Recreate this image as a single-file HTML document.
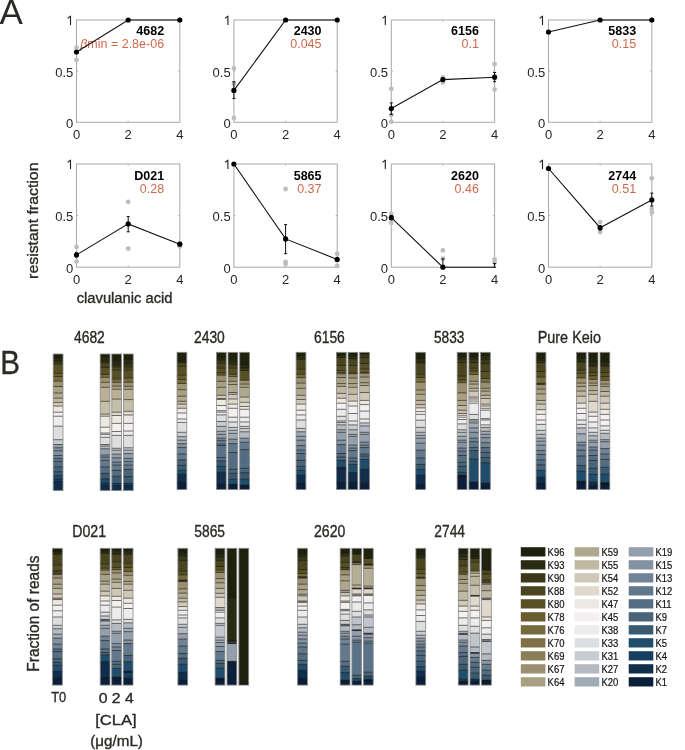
<!DOCTYPE html>
<html><head><meta charset="utf-8"><style>
html,body{margin:0;padding:0;background:#fff;}
svg{display:block;will-change:transform;}
text{font-family:"Liberation Sans", sans-serif;}
text.g{stroke:#2b2a24;stroke-width:0.35px;}
</style></head><body>
<svg width="685" height="750" viewBox="0 0 685 750">
<rect width="685" height="750" fill="#fff"/>
<rect x="76.5" y="20.0" width="103.3" height="102.3" fill="none" stroke="#a8a8a8" stroke-width="1"/>
<line x1="76.5" y1="71.2" x2="78.0" y2="71.2" stroke="#a8a8a8" stroke-width="1"/>
<line x1="179.8" y1="71.2" x2="178.3" y2="71.2" stroke="#a8a8a8" stroke-width="1"/>
<line x1="128.2" y1="122.3" x2="128.2" y2="120.8" stroke="#a8a8a8" stroke-width="1"/>
<line x1="128.2" y1="20.0" x2="128.2" y2="21.5" stroke="#a8a8a8" stroke-width="1"/>
<text x="73.3" y="128.1" text-anchor="end" font-size="13" fill="#262626">0</text>
<text x="73.3" y="77.0" text-anchor="end" font-size="13" fill="#262626">0.5</text>
<path d="M70.50 15.70V25.00M70.80 16.00L67.60 18.40" stroke="#262626" stroke-width="1.15" fill="none"/>
<text x="76.5" y="139.1" text-anchor="middle" font-size="13" fill="#262626">0</text>
<text x="128.2" y="139.1" text-anchor="middle" font-size="13" fill="#262626">2</text>
<text x="179.8" y="139.1" text-anchor="middle" font-size="13" fill="#262626">4</text>
<text x="164.1" y="34.5" text-anchor="end" font-size="12.5" font-weight="bold" fill="#000">4682</text>
<text x="164.1" y="48.2" text-anchor="end" font-size="12.5" fill="#cd6a4c"><tspan font-style="italic">β</tspan>min = 2.8e-06</text>
<circle cx="76.5" cy="47.6" r="2.4" fill="#bdbdbd"/>
<circle cx="76.5" cy="59.9" r="2.4" fill="#bdbdbd"/>
<polyline points="76.5,52.0 128.2,20.0 179.8,20.0" fill="none" stroke="#111" stroke-width="1.1"/>
<circle cx="76.5" cy="52.0" r="2.6" fill="#000"/>
<circle cx="128.2" cy="20.0" r="2.6" fill="#000"/>
<circle cx="179.8" cy="20.0" r="2.6" fill="#000"/>
<rect x="233.9" y="20.0" width="103.3" height="102.3" fill="none" stroke="#a8a8a8" stroke-width="1"/>
<line x1="233.9" y1="71.2" x2="235.4" y2="71.2" stroke="#a8a8a8" stroke-width="1"/>
<line x1="337.2" y1="71.2" x2="335.7" y2="71.2" stroke="#a8a8a8" stroke-width="1"/>
<line x1="285.6" y1="122.3" x2="285.6" y2="120.8" stroke="#a8a8a8" stroke-width="1"/>
<line x1="285.6" y1="20.0" x2="285.6" y2="21.5" stroke="#a8a8a8" stroke-width="1"/>
<text x="230.7" y="128.1" text-anchor="end" font-size="13" fill="#262626">0</text>
<text x="230.7" y="77.0" text-anchor="end" font-size="13" fill="#262626">0.5</text>
<path d="M227.90 15.70V25.00M228.20 16.00L225.00 18.40" stroke="#262626" stroke-width="1.15" fill="none"/>
<text x="233.9" y="139.1" text-anchor="middle" font-size="13" fill="#262626">0</text>
<text x="285.6" y="139.1" text-anchor="middle" font-size="13" fill="#262626">2</text>
<text x="337.2" y="139.1" text-anchor="middle" font-size="13" fill="#262626">4</text>
<text x="321.5" y="34.5" text-anchor="end" font-size="12.5" font-weight="bold" fill="#000">2430</text>
<text x="321.5" y="48.2" text-anchor="end" font-size="12.5" fill="#cd6a4c">0.045</text>
<circle cx="233.9" cy="68.5" r="2.4" fill="#bdbdbd"/>
<circle cx="233.9" cy="118.0" r="2.4" fill="#bdbdbd"/>
<circle cx="233.9" cy="83.9" r="2.4" fill="#bdbdbd"/>
<polyline points="233.9,90.4 285.6,20.0 337.2,20.0" fill="none" stroke="#111" stroke-width="1.1"/>
<line x1="233.9" y1="98.6" x2="233.9" y2="81.7" stroke="#111" stroke-width="1"/>
<line x1="232.4" y1="98.6" x2="235.4" y2="98.6" stroke="#111" stroke-width="1"/>
<line x1="232.4" y1="81.7" x2="235.4" y2="81.7" stroke="#111" stroke-width="1"/>
<circle cx="233.9" cy="90.4" r="2.6" fill="#000"/>
<circle cx="285.6" cy="20.0" r="2.6" fill="#000"/>
<circle cx="337.2" cy="20.0" r="2.6" fill="#000"/>
<rect x="391.3" y="20.0" width="103.3" height="102.3" fill="none" stroke="#a8a8a8" stroke-width="1"/>
<line x1="391.3" y1="71.2" x2="392.8" y2="71.2" stroke="#a8a8a8" stroke-width="1"/>
<line x1="494.6" y1="71.2" x2="493.1" y2="71.2" stroke="#a8a8a8" stroke-width="1"/>
<line x1="442.9" y1="122.3" x2="442.9" y2="120.8" stroke="#a8a8a8" stroke-width="1"/>
<line x1="442.9" y1="20.0" x2="442.9" y2="21.5" stroke="#a8a8a8" stroke-width="1"/>
<text x="388.1" y="128.1" text-anchor="end" font-size="13" fill="#262626">0</text>
<text x="388.1" y="77.0" text-anchor="end" font-size="13" fill="#262626">0.5</text>
<path d="M385.30 15.70V25.00M385.60 16.00L382.40 18.40" stroke="#262626" stroke-width="1.15" fill="none"/>
<text x="391.3" y="139.1" text-anchor="middle" font-size="13" fill="#262626">0</text>
<text x="442.9" y="139.1" text-anchor="middle" font-size="13" fill="#262626">2</text>
<text x="494.6" y="139.1" text-anchor="middle" font-size="13" fill="#262626">4</text>
<text x="478.9" y="34.5" text-anchor="end" font-size="12.5" font-weight="bold" fill="#000">6156</text>
<text x="478.9" y="48.2" text-anchor="end" font-size="12.5" fill="#cd6a4c">0.1</text>
<circle cx="391.3" cy="89.0" r="2.4" fill="#bdbdbd"/>
<circle cx="391.3" cy="121.7" r="2.4" fill="#bdbdbd"/>
<circle cx="391.3" cy="115.1" r="2.4" fill="#bdbdbd"/>
<circle cx="442.9" cy="77.3" r="2.4" fill="#bdbdbd"/>
<circle cx="442.9" cy="82.4" r="2.4" fill="#bdbdbd"/>
<circle cx="494.6" cy="64.1" r="2.4" fill="#bdbdbd"/>
<circle cx="494.6" cy="89.6" r="2.4" fill="#bdbdbd"/>
<polyline points="391.3,108.6 442.9,79.6 494.6,77.2" fill="none" stroke="#111" stroke-width="1.1"/>
<line x1="391.3" y1="114.5" x2="391.3" y2="102.9" stroke="#111" stroke-width="1"/>
<line x1="389.8" y1="114.5" x2="392.8" y2="114.5" stroke="#111" stroke-width="1"/>
<line x1="389.8" y1="102.9" x2="392.8" y2="102.9" stroke="#111" stroke-width="1"/>
<line x1="442.9" y1="81.4" x2="442.9" y2="78.3" stroke="#111" stroke-width="1"/>
<line x1="441.4" y1="81.4" x2="444.4" y2="81.4" stroke="#111" stroke-width="1"/>
<line x1="441.4" y1="78.3" x2="444.4" y2="78.3" stroke="#111" stroke-width="1"/>
<line x1="494.6" y1="81.7" x2="494.6" y2="72.5" stroke="#111" stroke-width="1"/>
<line x1="493.1" y1="81.7" x2="496.1" y2="81.7" stroke="#111" stroke-width="1"/>
<line x1="493.1" y1="72.5" x2="496.1" y2="72.5" stroke="#111" stroke-width="1"/>
<circle cx="391.3" cy="108.6" r="2.6" fill="#000"/>
<circle cx="442.9" cy="79.6" r="2.6" fill="#000"/>
<circle cx="494.6" cy="77.2" r="2.6" fill="#000"/>
<rect x="548.5" y="20.0" width="103.3" height="102.3" fill="none" stroke="#a8a8a8" stroke-width="1"/>
<line x1="548.5" y1="71.2" x2="550.0" y2="71.2" stroke="#a8a8a8" stroke-width="1"/>
<line x1="651.8" y1="71.2" x2="650.3" y2="71.2" stroke="#a8a8a8" stroke-width="1"/>
<line x1="600.1" y1="122.3" x2="600.1" y2="120.8" stroke="#a8a8a8" stroke-width="1"/>
<line x1="600.1" y1="20.0" x2="600.1" y2="21.5" stroke="#a8a8a8" stroke-width="1"/>
<text x="545.3" y="128.1" text-anchor="end" font-size="13" fill="#262626">0</text>
<text x="545.3" y="77.0" text-anchor="end" font-size="13" fill="#262626">0.5</text>
<path d="M542.50 15.70V25.00M542.80 16.00L539.60 18.40" stroke="#262626" stroke-width="1.15" fill="none"/>
<text x="548.5" y="139.1" text-anchor="middle" font-size="13" fill="#262626">0</text>
<text x="600.1" y="139.1" text-anchor="middle" font-size="13" fill="#262626">2</text>
<text x="651.8" y="139.1" text-anchor="middle" font-size="13" fill="#262626">4</text>
<text x="636.1" y="34.5" text-anchor="end" font-size="12.5" font-weight="bold" fill="#000">5833</text>
<text x="636.1" y="48.2" text-anchor="end" font-size="12.5" fill="#cd6a4c">0.15</text>
<polyline points="548.5,32.0 600.1,20.0 651.8,20.0" fill="none" stroke="#111" stroke-width="1.1"/>
<circle cx="548.5" cy="32.0" r="2.6" fill="#000"/>
<circle cx="600.1" cy="20.0" r="2.6" fill="#000"/>
<circle cx="651.8" cy="20.0" r="2.6" fill="#000"/>
<rect x="76.5" y="164.0" width="103.3" height="103.19999999999999" fill="none" stroke="#a8a8a8" stroke-width="1"/>
<line x1="76.5" y1="215.6" x2="78.0" y2="215.6" stroke="#a8a8a8" stroke-width="1"/>
<line x1="179.8" y1="215.6" x2="178.3" y2="215.6" stroke="#a8a8a8" stroke-width="1"/>
<line x1="128.2" y1="267.2" x2="128.2" y2="265.7" stroke="#a8a8a8" stroke-width="1"/>
<line x1="128.2" y1="164.0" x2="128.2" y2="165.5" stroke="#a8a8a8" stroke-width="1"/>
<text x="73.3" y="273.0" text-anchor="end" font-size="13" fill="#262626">0</text>
<text x="73.3" y="221.4" text-anchor="end" font-size="13" fill="#262626">0.5</text>
<path d="M70.50 159.70V169.00M70.80 160.00L67.60 162.40" stroke="#262626" stroke-width="1.15" fill="none"/>
<text x="76.5" y="284.0" text-anchor="middle" font-size="13" fill="#262626">0</text>
<text x="128.2" y="284.0" text-anchor="middle" font-size="13" fill="#262626">2</text>
<text x="179.8" y="284.0" text-anchor="middle" font-size="13" fill="#262626">4</text>
<text x="164.1" y="179.5" text-anchor="end" font-size="12.5" font-weight="bold" fill="#000">D021</text>
<text x="164.1" y="192.7" text-anchor="end" font-size="12.5" fill="#cd6a4c">0.28</text>
<circle cx="76.5" cy="246.9" r="2.4" fill="#bdbdbd"/>
<circle cx="76.5" cy="261.6" r="2.4" fill="#bdbdbd"/>
<circle cx="128.2" cy="201.8" r="2.4" fill="#bdbdbd"/>
<circle cx="128.2" cy="248.6" r="2.4" fill="#bdbdbd"/>
<circle cx="179.8" cy="246.6" r="2.4" fill="#bdbdbd"/>
<circle cx="179.8" cy="243.5" r="2.4" fill="#bdbdbd"/>
<polyline points="76.5,254.9 128.2,223.9 179.8,244.2" fill="none" stroke="#111" stroke-width="1.1"/>
<line x1="76.5" y1="256.9" x2="76.5" y2="252.8" stroke="#111" stroke-width="1"/>
<line x1="75.0" y1="256.9" x2="78.0" y2="256.9" stroke="#111" stroke-width="1"/>
<line x1="75.0" y1="252.8" x2="78.0" y2="252.8" stroke="#111" stroke-width="1"/>
<line x1="128.2" y1="231.8" x2="128.2" y2="216.6" stroke="#111" stroke-width="1"/>
<line x1="126.7" y1="231.8" x2="129.7" y2="231.8" stroke="#111" stroke-width="1"/>
<line x1="126.7" y1="216.6" x2="129.7" y2="216.6" stroke="#111" stroke-width="1"/>
<line x1="179.8" y1="245.5" x2="179.8" y2="242.9" stroke="#111" stroke-width="1"/>
<line x1="178.3" y1="245.5" x2="181.3" y2="245.5" stroke="#111" stroke-width="1"/>
<line x1="178.3" y1="242.9" x2="181.3" y2="242.9" stroke="#111" stroke-width="1"/>
<circle cx="76.5" cy="254.9" r="2.6" fill="#000"/>
<circle cx="128.2" cy="223.9" r="2.6" fill="#000"/>
<circle cx="179.8" cy="244.2" r="2.6" fill="#000"/>
<rect x="233.9" y="164.0" width="103.3" height="103.19999999999999" fill="none" stroke="#a8a8a8" stroke-width="1"/>
<line x1="233.9" y1="215.6" x2="235.4" y2="215.6" stroke="#a8a8a8" stroke-width="1"/>
<line x1="337.2" y1="215.6" x2="335.7" y2="215.6" stroke="#a8a8a8" stroke-width="1"/>
<line x1="285.6" y1="267.2" x2="285.6" y2="265.7" stroke="#a8a8a8" stroke-width="1"/>
<line x1="285.6" y1="164.0" x2="285.6" y2="165.5" stroke="#a8a8a8" stroke-width="1"/>
<text x="230.7" y="273.0" text-anchor="end" font-size="13" fill="#262626">0</text>
<text x="230.7" y="221.4" text-anchor="end" font-size="13" fill="#262626">0.5</text>
<path d="M227.90 159.70V169.00M228.20 160.00L225.00 162.40" stroke="#262626" stroke-width="1.15" fill="none"/>
<text x="233.9" y="284.0" text-anchor="middle" font-size="13" fill="#262626">0</text>
<text x="285.6" y="284.0" text-anchor="middle" font-size="13" fill="#262626">2</text>
<text x="337.2" y="284.0" text-anchor="middle" font-size="13" fill="#262626">4</text>
<text x="321.5" y="179.5" text-anchor="end" font-size="12.5" font-weight="bold" fill="#000">5865</text>
<text x="321.5" y="192.7" text-anchor="end" font-size="12.5" fill="#cd6a4c">0.37</text>
<circle cx="285.6" cy="189.0" r="2.4" fill="#bdbdbd"/>
<circle cx="285.6" cy="262.0" r="2.4" fill="#bdbdbd"/>
<circle cx="285.6" cy="264.1" r="2.4" fill="#bdbdbd"/>
<circle cx="337.2" cy="253.8" r="2.4" fill="#bdbdbd"/>
<circle cx="337.2" cy="266.0" r="2.4" fill="#bdbdbd"/>
<polyline points="233.9,164.0 285.6,238.9 337.2,259.4" fill="none" stroke="#111" stroke-width="1.1"/>
<line x1="285.6" y1="253.7" x2="285.6" y2="224.6" stroke="#111" stroke-width="1"/>
<line x1="284.1" y1="253.7" x2="287.1" y2="253.7" stroke="#111" stroke-width="1"/>
<line x1="284.1" y1="224.6" x2="287.1" y2="224.6" stroke="#111" stroke-width="1"/>
<line x1="337.2" y1="261.0" x2="337.2" y2="257.9" stroke="#111" stroke-width="1"/>
<line x1="335.7" y1="261.0" x2="338.7" y2="261.0" stroke="#111" stroke-width="1"/>
<line x1="335.7" y1="257.9" x2="338.7" y2="257.9" stroke="#111" stroke-width="1"/>
<circle cx="233.9" cy="164.0" r="2.6" fill="#000"/>
<circle cx="285.6" cy="238.9" r="2.6" fill="#000"/>
<circle cx="337.2" cy="259.4" r="2.6" fill="#000"/>
<rect x="391.3" y="164.0" width="103.3" height="103.19999999999999" fill="none" stroke="#a8a8a8" stroke-width="1"/>
<line x1="391.3" y1="215.6" x2="392.8" y2="215.6" stroke="#a8a8a8" stroke-width="1"/>
<line x1="494.6" y1="215.6" x2="493.1" y2="215.6" stroke="#a8a8a8" stroke-width="1"/>
<line x1="442.9" y1="267.2" x2="442.9" y2="265.7" stroke="#a8a8a8" stroke-width="1"/>
<line x1="442.9" y1="164.0" x2="442.9" y2="165.5" stroke="#a8a8a8" stroke-width="1"/>
<text x="388.1" y="273.0" text-anchor="end" font-size="13" fill="#262626">0</text>
<text x="388.1" y="221.4" text-anchor="end" font-size="13" fill="#262626">0.5</text>
<path d="M385.30 159.70V169.00M385.60 160.00L382.40 162.40" stroke="#262626" stroke-width="1.15" fill="none"/>
<text x="391.3" y="284.0" text-anchor="middle" font-size="13" fill="#262626">0</text>
<text x="442.9" y="284.0" text-anchor="middle" font-size="13" fill="#262626">2</text>
<text x="494.6" y="284.0" text-anchor="middle" font-size="13" fill="#262626">4</text>
<text x="478.9" y="179.5" text-anchor="end" font-size="12.5" font-weight="bold" fill="#000">2620</text>
<text x="478.9" y="192.7" text-anchor="end" font-size="12.5" fill="#cd6a4c">0.46</text>
<circle cx="391.3" cy="213.8" r="2.4" fill="#bdbdbd"/>
<circle cx="391.3" cy="223.0" r="2.4" fill="#bdbdbd"/>
<circle cx="442.9" cy="250.4" r="2.4" fill="#bdbdbd"/>
<circle cx="442.9" cy="258.6" r="2.4" fill="#bdbdbd"/>
<circle cx="494.6" cy="259.4" r="2.4" fill="#bdbdbd"/>
<circle cx="494.6" cy="262.5" r="2.4" fill="#bdbdbd"/>
<polyline points="391.3,217.7 442.9,267.2 494.6,267.2" fill="none" stroke="#111" stroke-width="1.1"/>
<line x1="391.3" y1="219.7" x2="391.3" y2="215.6" stroke="#111" stroke-width="1"/>
<line x1="389.8" y1="219.7" x2="392.8" y2="219.7" stroke="#111" stroke-width="1"/>
<line x1="389.8" y1="215.6" x2="392.8" y2="215.6" stroke="#111" stroke-width="1"/>
<line x1="442.9" y1="267.2" x2="442.9" y2="258.9" stroke="#111" stroke-width="1"/>
<line x1="441.4" y1="267.2" x2="444.4" y2="267.2" stroke="#111" stroke-width="1"/>
<line x1="441.4" y1="258.9" x2="444.4" y2="258.9" stroke="#111" stroke-width="1"/>
<line x1="494.6" y1="267.2" x2="494.6" y2="263.6" stroke="#111" stroke-width="1"/>
<line x1="493.1" y1="267.2" x2="496.1" y2="267.2" stroke="#111" stroke-width="1"/>
<line x1="493.1" y1="263.6" x2="496.1" y2="263.6" stroke="#111" stroke-width="1"/>
<circle cx="391.3" cy="217.7" r="2.6" fill="#000"/>
<circle cx="442.9" cy="267.2" r="2.6" fill="#000"/>
<rect x="548.5" y="164.0" width="103.3" height="103.19999999999999" fill="none" stroke="#a8a8a8" stroke-width="1"/>
<line x1="548.5" y1="215.6" x2="550.0" y2="215.6" stroke="#a8a8a8" stroke-width="1"/>
<line x1="651.8" y1="215.6" x2="650.3" y2="215.6" stroke="#a8a8a8" stroke-width="1"/>
<line x1="600.1" y1="267.2" x2="600.1" y2="265.7" stroke="#a8a8a8" stroke-width="1"/>
<line x1="600.1" y1="164.0" x2="600.1" y2="165.5" stroke="#a8a8a8" stroke-width="1"/>
<text x="545.3" y="273.0" text-anchor="end" font-size="13" fill="#262626">0</text>
<text x="545.3" y="221.4" text-anchor="end" font-size="13" fill="#262626">0.5</text>
<path d="M542.50 159.70V169.00M542.80 160.00L539.60 162.40" stroke="#262626" stroke-width="1.15" fill="none"/>
<text x="548.5" y="284.0" text-anchor="middle" font-size="13" fill="#262626">0</text>
<text x="600.1" y="284.0" text-anchor="middle" font-size="13" fill="#262626">2</text>
<text x="651.8" y="284.0" text-anchor="middle" font-size="13" fill="#262626">4</text>
<text x="636.1" y="179.5" text-anchor="end" font-size="12.5" font-weight="bold" fill="#000">2744</text>
<text x="636.1" y="192.7" text-anchor="end" font-size="12.5" fill="#cd6a4c">0.51</text>
<circle cx="600.1" cy="222.1" r="2.4" fill="#bdbdbd"/>
<circle cx="600.1" cy="232.1" r="2.4" fill="#bdbdbd"/>
<circle cx="651.8" cy="178.3" r="2.4" fill="#bdbdbd"/>
<circle cx="651.8" cy="208.9" r="2.4" fill="#bdbdbd"/>
<circle cx="651.8" cy="212.5" r="2.4" fill="#bdbdbd"/>
<polyline points="548.5,168.5 600.1,227.7 651.8,199.9" fill="none" stroke="#111" stroke-width="1.1"/>
<line x1="600.1" y1="230.0" x2="600.1" y2="225.9" stroke="#111" stroke-width="1"/>
<line x1="598.6" y1="230.0" x2="601.6" y2="230.0" stroke="#111" stroke-width="1"/>
<line x1="598.6" y1="225.9" x2="601.6" y2="225.9" stroke="#111" stroke-width="1"/>
<line x1="651.8" y1="206.0" x2="651.8" y2="193.1" stroke="#111" stroke-width="1"/>
<line x1="650.3" y1="206.0" x2="653.3" y2="206.0" stroke="#111" stroke-width="1"/>
<line x1="650.3" y1="193.1" x2="653.3" y2="193.1" stroke="#111" stroke-width="1"/>
<circle cx="548.5" cy="168.5" r="2.6" fill="#000"/>
<circle cx="600.1" cy="227.7" r="2.6" fill="#000"/>
<circle cx="651.8" cy="199.9" r="2.6" fill="#000"/>
<text x="-0.6" y="23.6" font-size="35" fill="#2b2a24">A</text>
<text transform="translate(0.2,373.9) scale(0.91,1)" font-size="32.5" fill="#2b2a24" stroke="#2b2a24" stroke-width="0.35">B</text>
<text transform="translate(38,278.9) rotate(-90)" font-size="15.2" class="g" fill="#2b2a24" textLength="116.4" lengthAdjust="spacingAndGlyphs">resistant fraction</text>
<text x="76.7" y="302.7" font-size="15.2" class="g" fill="#2b2a24" textLength="95.8" lengthAdjust="spacingAndGlyphs">clavulanic acid</text>
<text transform="translate(39.3,671.7) rotate(-90)" font-size="16.3" class="g" fill="#2b2a24" textLength="116.2" lengthAdjust="spacingAndGlyphs">Fraction of reads</text>
<text x="74.0" y="343.0" font-size="16" class="g" fill="#2b2a24" textLength="30.8" lengthAdjust="spacingAndGlyphs">4682</text>
<g transform="translate(53.2,0)">
<rect y="354.00" width="9.8" height="4.60" fill="#1e220d"/>
<rect y="358.00" width="9.8" height="3.60" fill="#2a2b13"/>
<rect y="361.00" width="9.8" height="3.70" fill="#3a3818"/>
<rect y="364.10" width="9.8" height="9.80" fill="#575024"/>
<rect y="373.30" width="9.8" height="3.80" fill="#695d2d"/>
<rect y="376.50" width="9.8" height="5.30" fill="#766b3e"/>
<rect y="381.20" width="9.8" height="5.90" fill="#9b8f6f"/>
<rect y="386.50" width="9.8" height="7.10" fill="#a9a084"/>
<rect y="393.00" width="9.8" height="5.80" fill="#b0a88e"/>
<rect y="398.20" width="9.8" height="4.80" fill="#c0b8a3"/>
<rect y="402.40" width="9.8" height="4.30" fill="#cfc7b7"/>
<rect y="406.10" width="9.8" height="6.70" fill="#ece8e2"/>
<rect y="412.20" width="9.8" height="4.60" fill="#f4f0ef"/>
<rect y="416.20" width="9.8" height="10.60" fill="#ecebed"/>
<rect y="426.20" width="9.8" height="14.10" fill="#dcdee0"/>
<rect y="439.70" width="9.8" height="5.40" fill="#c8cbd0"/>
<rect y="444.50" width="9.8" height="3.90" fill="#939fac"/>
<rect y="447.80" width="9.8" height="3.50" fill="#8292a1"/>
<rect y="450.70" width="9.8" height="5.40" fill="#7e8fa0"/>
<rect y="455.50" width="9.8" height="3.50" fill="#718497"/>
<rect y="458.40" width="9.8" height="3.50" fill="#62788c"/>
<rect y="461.30" width="9.8" height="6.30" fill="#546d83"/>
<rect y="467.00" width="9.8" height="5.40" fill="#4a6579"/>
<rect y="471.80" width="9.8" height="4.50" fill="#3a5a72"/>
<rect y="475.70" width="9.8" height="3.90" fill="#204d6b"/>
<rect y="479.00" width="9.8" height="3.10" fill="#173f62"/>
<rect y="481.50" width="9.8" height="9.10" fill="#102d4c"/>
<path d="M0 358.00h9.8M0 361.00h9.8M0 364.10h9.8M0 373.30h9.8M0 376.50h9.8M0 381.20h9.8M0 386.50h9.8M0 393.00h9.8M0 398.20h9.8M0 402.40h9.8M0 406.10h9.8M0 412.20h9.8M0 416.20h9.8M0 426.20h9.8M0 439.70h9.8M0 444.50h9.8M0 447.80h9.8M0 450.70h9.8M0 455.50h9.8M0 458.40h9.8M0 461.30h9.8M0 467.00h9.8M0 471.80h9.8M0 475.70h9.8M0 479.00h9.8M0 481.50h9.8" stroke="#1a1a14" stroke-opacity="0.75" stroke-width="0.8"/>
<rect y="354.00" width="9.8" height="136.60" fill="none" stroke="#8a8a8a" stroke-width="0.8"/>
</g>
<g transform="translate(100.2,0)">
<rect y="354.00" width="9.8" height="3.30" fill="#1e220d"/>
<rect y="356.70" width="9.8" height="4.80" fill="#2a2b13"/>
<rect y="360.90" width="9.8" height="2.40" fill="#3a3818"/>
<rect y="362.70" width="9.8" height="5.30" fill="#4a4520"/>
<rect y="367.40" width="9.8" height="7.60" fill="#575024"/>
<rect y="374.40" width="9.8" height="3.50" fill="#766b3e"/>
<rect y="377.30" width="9.8" height="5.60" fill="#9b8f6f"/>
<rect y="382.30" width="9.8" height="5.60" fill="#a9a084"/>
<rect y="387.30" width="9.8" height="14.60" fill="#b9b096"/>
<rect y="401.30" width="9.8" height="13.40" fill="#c6bea9"/>
<rect y="414.10" width="9.8" height="2.70" fill="#dfd8cc"/>
<rect y="416.20" width="9.8" height="11.60" fill="#ece8e2"/>
<rect y="427.20" width="9.8" height="6.40" fill="#f4f0ef"/>
<rect y="433.00" width="9.8" height="2.00" fill="#e6e4e4"/>
<rect y="434.40" width="9.8" height="3.50" fill="#ecebed"/>
<rect y="437.30" width="9.8" height="7.80" fill="#dcdee0"/>
<rect y="444.50" width="9.8" height="2.10" fill="#c8cbd0"/>
<rect y="446.00" width="9.8" height="3.40" fill="#b3bac3"/>
<rect y="448.80" width="9.8" height="6.80" fill="#939fac"/>
<rect y="455.00" width="9.8" height="2.60" fill="#8292a1"/>
<rect y="457.00" width="9.8" height="3.90" fill="#718497"/>
<rect y="460.30" width="9.8" height="7.30" fill="#62788c"/>
<rect y="467.00" width="9.8" height="6.90" fill="#546d83"/>
<rect y="473.30" width="9.8" height="6.30" fill="#3a5a72"/>
<rect y="479.00" width="9.8" height="4.50" fill="#204d6b"/>
<rect y="482.90" width="9.8" height="2.70" fill="#173f62"/>
<rect y="485.00" width="9.8" height="5.60" fill="#102d4c"/>
<path d="M0 356.70h9.8M0 360.90h9.8M0 362.70h9.8M0 367.40h9.8M0 374.40h9.8M0 377.30h9.8M0 382.30h9.8M0 387.30h9.8M0 401.30h9.8M0 414.10h9.8M0 416.20h9.8M0 427.20h9.8M0 433.00h9.8M0 434.40h9.8M0 437.30h9.8M0 444.50h9.8M0 446.00h9.8M0 448.80h9.8M0 455.00h9.8M0 457.00h9.8M0 460.30h9.8M0 467.00h9.8M0 473.30h9.8M0 479.00h9.8M0 482.90h9.8M0 485.00h9.8" stroke="#1a1a14" stroke-opacity="0.75" stroke-width="0.8"/>
<rect y="354.00" width="9.8" height="136.60" fill="none" stroke="#8a8a8a" stroke-width="0.8"/>
</g>
<g transform="translate(111.8,0)">
<rect y="354.00" width="9.8" height="7.50" fill="#1e220d"/>
<rect y="360.90" width="9.8" height="4.80" fill="#2a2b13"/>
<rect y="365.10" width="9.8" height="2.40" fill="#3a3818"/>
<rect y="366.90" width="9.8" height="3.90" fill="#4a4520"/>
<rect y="370.20" width="9.8" height="9.50" fill="#575024"/>
<rect y="379.10" width="9.8" height="3.80" fill="#766b3e"/>
<rect y="382.30" width="9.8" height="4.40" fill="#9b8f6f"/>
<rect y="386.10" width="9.8" height="3.80" fill="#a9a084"/>
<rect y="389.30" width="9.8" height="10.40" fill="#b9b096"/>
<rect y="399.10" width="9.8" height="13.70" fill="#c6bea9"/>
<rect y="412.20" width="9.8" height="3.90" fill="#dfd8cc"/>
<rect y="415.50" width="9.8" height="8.50" fill="#ece8e2"/>
<rect y="423.40" width="9.8" height="8.70" fill="#f4f0ef"/>
<rect y="431.50" width="9.8" height="4.50" fill="#ecebed"/>
<rect y="435.40" width="9.8" height="13.50" fill="#dcdee0"/>
<rect y="448.30" width="9.8" height="2.50" fill="#c8cbd0"/>
<rect y="450.20" width="9.8" height="4.50" fill="#b3bac3"/>
<rect y="454.10" width="9.8" height="4.40" fill="#939fac"/>
<rect y="457.90" width="9.8" height="4.90" fill="#8292a1"/>
<rect y="462.20" width="9.8" height="3.50" fill="#718497"/>
<rect y="465.10" width="9.8" height="5.90" fill="#62788c"/>
<rect y="470.40" width="9.8" height="6.40" fill="#546d83"/>
<rect y="476.20" width="9.8" height="7.80" fill="#3a5a72"/>
<rect y="483.40" width="9.8" height="2.90" fill="#173f62"/>
<rect y="485.70" width="9.8" height="4.90" fill="#102d4c"/>
<path d="M0 360.90h9.8M0 365.10h9.8M0 366.90h9.8M0 370.20h9.8M0 379.10h9.8M0 382.30h9.8M0 386.10h9.8M0 389.30h9.8M0 399.10h9.8M0 412.20h9.8M0 415.50h9.8M0 423.40h9.8M0 431.50h9.8M0 435.40h9.8M0 448.30h9.8M0 450.20h9.8M0 454.10h9.8M0 457.90h9.8M0 462.20h9.8M0 465.10h9.8M0 470.40h9.8M0 476.20h9.8M0 483.40h9.8M0 485.70h9.8" stroke="#1a1a14" stroke-opacity="0.75" stroke-width="0.8"/>
<rect y="354.00" width="9.8" height="136.60" fill="none" stroke="#8a8a8a" stroke-width="0.8"/>
</g>
<g transform="translate(123.4,0)">
<rect y="354.00" width="9.8" height="6.10" fill="#1e220d"/>
<rect y="359.50" width="9.8" height="4.80" fill="#2a2b13"/>
<rect y="363.70" width="9.8" height="3.80" fill="#3a3818"/>
<rect y="366.90" width="9.8" height="3.90" fill="#4a4520"/>
<rect y="370.20" width="9.8" height="8.50" fill="#575024"/>
<rect y="378.10" width="9.8" height="4.80" fill="#766b3e"/>
<rect y="382.30" width="9.8" height="4.60" fill="#9b8f6f"/>
<rect y="386.30" width="9.8" height="3.60" fill="#a9a084"/>
<rect y="389.30" width="9.8" height="10.90" fill="#b9b096"/>
<rect y="399.60" width="9.8" height="12.30" fill="#c6bea9"/>
<rect y="411.30" width="9.8" height="4.30" fill="#dfd8cc"/>
<rect y="415.00" width="9.8" height="9.00" fill="#ece8e2"/>
<rect y="423.40" width="9.8" height="8.20" fill="#f4f0ef"/>
<rect y="431.00" width="9.8" height="5.00" fill="#ecebed"/>
<rect y="435.40" width="9.8" height="13.00" fill="#dcdee0"/>
<rect y="447.80" width="9.8" height="3.00" fill="#c8cbd0"/>
<rect y="450.20" width="9.8" height="4.00" fill="#b3bac3"/>
<rect y="453.60" width="9.8" height="5.40" fill="#939fac"/>
<rect y="458.40" width="9.8" height="3.50" fill="#8292a1"/>
<rect y="461.30" width="9.8" height="4.40" fill="#718497"/>
<rect y="465.10" width="9.8" height="4.90" fill="#62788c"/>
<rect y="469.40" width="9.8" height="7.80" fill="#4a6579"/>
<rect y="476.60" width="9.8" height="7.40" fill="#3a5a72"/>
<rect y="483.40" width="9.8" height="2.70" fill="#173f62"/>
<rect y="485.50" width="9.8" height="5.10" fill="#102d4c"/>
<path d="M0 359.50h9.8M0 363.70h9.8M0 366.90h9.8M0 370.20h9.8M0 378.10h9.8M0 382.30h9.8M0 386.30h9.8M0 389.30h9.8M0 399.60h9.8M0 411.30h9.8M0 415.00h9.8M0 423.40h9.8M0 431.00h9.8M0 435.40h9.8M0 447.80h9.8M0 450.20h9.8M0 453.60h9.8M0 458.40h9.8M0 461.30h9.8M0 465.10h9.8M0 469.40h9.8M0 476.60h9.8M0 483.40h9.8M0 485.50h9.8" stroke="#1a1a14" stroke-opacity="0.75" stroke-width="0.8"/>
<rect y="354.00" width="9.8" height="136.60" fill="none" stroke="#8a8a8a" stroke-width="0.8"/>
</g>
<text x="194.0" y="343.0" font-size="16" class="g" fill="#2b2a24" textLength="30.8" lengthAdjust="spacingAndGlyphs">2430</text>
<g transform="translate(177.0,0)">
<rect y="352.30" width="9.8" height="9.00" fill="#1e220d"/>
<rect y="360.70" width="9.8" height="2.50" fill="#2a2b13"/>
<rect y="362.60" width="9.8" height="4.30" fill="#4a4520"/>
<rect y="366.30" width="9.8" height="9.50" fill="#575024"/>
<rect y="375.20" width="9.8" height="4.80" fill="#695d2d"/>
<rect y="379.40" width="9.8" height="4.70" fill="#766b3e"/>
<rect y="383.50" width="9.8" height="6.80" fill="#a09676"/>
<rect y="389.70" width="9.8" height="7.10" fill="#a9a084"/>
<rect y="396.20" width="9.8" height="5.70" fill="#b0a88e"/>
<rect y="401.30" width="9.8" height="3.40" fill="#c0b8a3"/>
<rect y="404.10" width="9.8" height="4.80" fill="#cfc7b7"/>
<rect y="408.30" width="9.8" height="5.30" fill="#ece8e2"/>
<rect y="413.00" width="9.8" height="6.60" fill="#f4f0ef"/>
<rect y="419.00" width="9.8" height="4.00" fill="#ecebed"/>
<rect y="422.40" width="9.8" height="10.50" fill="#dcdee0"/>
<rect y="432.30" width="9.8" height="5.00" fill="#c8cbd0"/>
<rect y="436.70" width="9.8" height="4.10" fill="#b3bac3"/>
<rect y="440.20" width="9.8" height="4.10" fill="#a0abb5"/>
<rect y="443.70" width="9.8" height="4.50" fill="#8292a1"/>
<rect y="447.60" width="9.8" height="7.00" fill="#718497"/>
<rect y="454.00" width="9.8" height="6.50" fill="#62788c"/>
<rect y="459.90" width="9.8" height="6.10" fill="#4a6579"/>
<rect y="465.40" width="9.8" height="5.50" fill="#3a5a72"/>
<rect y="470.30" width="9.8" height="4.50" fill="#204d6b"/>
<rect y="474.20" width="9.8" height="8.50" fill="#102d4c"/>
<rect y="482.10" width="9.8" height="7.50" fill="#0b1f3a"/>
<path d="M0 360.70h9.8M0 362.60h9.8M0 366.30h9.8M0 375.20h9.8M0 379.40h9.8M0 383.50h9.8M0 389.70h9.8M0 396.20h9.8M0 401.30h9.8M0 404.10h9.8M0 408.30h9.8M0 413.00h9.8M0 419.00h9.8M0 422.40h9.8M0 432.30h9.8M0 436.70h9.8M0 440.20h9.8M0 443.70h9.8M0 447.60h9.8M0 454.00h9.8M0 459.90h9.8M0 465.40h9.8M0 470.30h9.8M0 474.20h9.8M0 482.10h9.8" stroke="#1a1a14" stroke-opacity="0.75" stroke-width="0.8"/>
<rect y="352.30" width="9.8" height="137.30" fill="none" stroke="#8a8a8a" stroke-width="0.8"/>
</g>
<g transform="translate(216.4,0)">
<rect y="352.30" width="9.8" height="6.20" fill="#1e220d"/>
<rect y="357.90" width="9.8" height="3.00" fill="#2a2b13"/>
<rect y="360.30" width="9.8" height="3.40" fill="#3a3818"/>
<rect y="363.10" width="9.8" height="5.70" fill="#4a4520"/>
<rect y="368.20" width="9.8" height="5.30" fill="#575024"/>
<rect y="372.90" width="9.8" height="2.90" fill="#695d2d"/>
<rect y="375.20" width="9.8" height="6.70" fill="#9b8f6f"/>
<rect y="381.30" width="9.8" height="6.60" fill="#a9a084"/>
<rect y="387.30" width="9.8" height="8.60" fill="#b0a88e"/>
<rect y="395.30" width="9.8" height="3.80" fill="#cfc7b7"/>
<rect y="398.50" width="9.8" height="1.60" fill="#dfd8cc"/>
<rect y="399.50" width="9.8" height="6.60" fill="#ece8e2"/>
<rect y="405.50" width="9.8" height="5.80" fill="#f4f0ef"/>
<rect y="410.70" width="9.8" height="2.00" fill="#e4e3e4"/>
<rect y="412.10" width="9.8" height="3.40" fill="#ecebed"/>
<rect y="414.90" width="9.8" height="7.20" fill="#dcdee0"/>
<rect y="421.50" width="9.8" height="5.50" fill="#c8cbd0"/>
<rect y="426.40" width="9.8" height="5.50" fill="#b3bac3"/>
<rect y="431.30" width="9.8" height="3.60" fill="#a0abb5"/>
<rect y="434.30" width="9.8" height="4.50" fill="#939fac"/>
<rect y="438.20" width="9.8" height="3.10" fill="#718497"/>
<rect y="440.70" width="9.8" height="4.00" fill="#6c7f92"/>
<rect y="444.10" width="9.8" height="2.10" fill="#62788c"/>
<rect y="445.60" width="9.8" height="12.50" fill="#5a7289"/>
<rect y="457.50" width="9.8" height="4.00" fill="#546d83"/>
<rect y="460.90" width="9.8" height="6.00" fill="#3a5a72"/>
<rect y="466.30" width="9.8" height="6.60" fill="#204d6b"/>
<rect y="472.30" width="9.8" height="12.40" fill="#102d4c"/>
<rect y="484.10" width="9.8" height="5.50" fill="#0b1f3a"/>
<path d="M0 357.90h9.8M0 360.30h9.8M0 363.10h9.8M0 368.20h9.8M0 372.90h9.8M0 375.20h9.8M0 381.30h9.8M0 387.30h9.8M0 395.30h9.8M0 398.50h9.8M0 399.50h9.8M0 405.50h9.8M0 410.70h9.8M0 412.10h9.8M0 414.90h9.8M0 421.50h9.8M0 426.40h9.8M0 431.30h9.8M0 434.30h9.8M0 438.20h9.8M0 440.70h9.8M0 444.10h9.8M0 445.60h9.8M0 457.50h9.8M0 460.90h9.8M0 466.30h9.8M0 472.30h9.8M0 484.10h9.8" stroke="#1a1a14" stroke-opacity="0.75" stroke-width="0.8"/>
<rect y="352.30" width="9.8" height="137.30" fill="none" stroke="#8a8a8a" stroke-width="0.8"/>
</g>
<g transform="translate(228.0,0)">
<rect y="352.30" width="9.8" height="8.60" fill="#1e220d"/>
<rect y="360.30" width="9.8" height="3.40" fill="#2a2b13"/>
<rect y="363.10" width="9.8" height="2.40" fill="#3a3818"/>
<rect y="364.90" width="9.8" height="3.90" fill="#4a4520"/>
<rect y="368.20" width="9.8" height="6.70" fill="#575024"/>
<rect y="374.30" width="9.8" height="2.90" fill="#766b3e"/>
<rect y="376.60" width="9.8" height="5.30" fill="#9b8f6f"/>
<rect y="381.30" width="9.8" height="3.80" fill="#a9a084"/>
<rect y="384.50" width="9.8" height="8.60" fill="#b0a88e"/>
<rect y="392.50" width="9.8" height="2.40" fill="#c0b8a3"/>
<rect y="394.30" width="9.8" height="5.30" fill="#cfc7b7"/>
<rect y="399.00" width="9.8" height="5.70" fill="#dfd8cc"/>
<rect y="404.10" width="9.8" height="4.80" fill="#ece8e2"/>
<rect y="408.30" width="9.8" height="9.50" fill="#f4f0ef"/>
<rect y="417.20" width="9.8" height="5.40" fill="#ecebed"/>
<rect y="422.00" width="9.8" height="6.00" fill="#dcdee0"/>
<rect y="427.40" width="9.8" height="3.50" fill="#c8cbd0"/>
<rect y="430.30" width="9.8" height="3.60" fill="#b3bac3"/>
<rect y="433.30" width="9.8" height="6.50" fill="#a0abb5"/>
<rect y="439.20" width="9.8" height="5.10" fill="#8292a1"/>
<rect y="443.70" width="9.8" height="9.40" fill="#62788c"/>
<rect y="452.50" width="9.8" height="17.40" fill="#546d83"/>
<rect y="469.30" width="9.8" height="4.60" fill="#4a6579"/>
<rect y="473.30" width="9.8" height="6.50" fill="#3a5a72"/>
<rect y="479.20" width="9.8" height="5.50" fill="#204d6b"/>
<rect y="484.10" width="9.8" height="5.50" fill="#0b1f3a"/>
<path d="M0 360.30h9.8M0 363.10h9.8M0 364.90h9.8M0 368.20h9.8M0 374.30h9.8M0 376.60h9.8M0 381.30h9.8M0 384.50h9.8M0 392.50h9.8M0 394.30h9.8M0 399.00h9.8M0 404.10h9.8M0 408.30h9.8M0 417.20h9.8M0 422.00h9.8M0 427.40h9.8M0 430.30h9.8M0 433.30h9.8M0 439.20h9.8M0 443.70h9.8M0 452.50h9.8M0 469.30h9.8M0 473.30h9.8M0 479.20h9.8M0 484.10h9.8" stroke="#1a1a14" stroke-opacity="0.75" stroke-width="0.8"/>
<rect y="352.30" width="9.8" height="137.30" fill="none" stroke="#8a8a8a" stroke-width="0.8"/>
</g>
<g transform="translate(239.7,0)">
<rect y="352.30" width="9.8" height="12.80" fill="#1e220d"/>
<rect y="364.50" width="9.8" height="3.80" fill="#2a2b13"/>
<rect y="367.70" width="9.8" height="3.40" fill="#3a3818"/>
<rect y="370.50" width="9.8" height="10.40" fill="#575024"/>
<rect y="380.30" width="9.8" height="4.40" fill="#9b8f6f"/>
<rect y="384.10" width="9.8" height="3.80" fill="#a9a084"/>
<rect y="387.30" width="9.8" height="10.40" fill="#b0a88e"/>
<rect y="397.10" width="9.8" height="5.80" fill="#cfc7b7"/>
<rect y="402.30" width="9.8" height="4.80" fill="#dfd8cc"/>
<rect y="406.50" width="9.8" height="3.40" fill="#ece8e2"/>
<rect y="409.30" width="9.8" height="8.50" fill="#f4f0ef"/>
<rect y="417.20" width="9.8" height="5.40" fill="#ecebed"/>
<rect y="422.00" width="9.8" height="5.00" fill="#e6e6e8"/>
<rect y="426.40" width="9.8" height="2.60" fill="#dcdee0"/>
<rect y="428.40" width="9.8" height="4.00" fill="#c8cbd0"/>
<rect y="431.80" width="9.8" height="7.00" fill="#b3bac3"/>
<rect y="438.20" width="9.8" height="4.60" fill="#8292a1"/>
<rect y="442.20" width="9.8" height="8.00" fill="#62788c"/>
<rect y="449.60" width="9.8" height="19.30" fill="#546d83"/>
<rect y="468.30" width="9.8" height="5.10" fill="#4a6579"/>
<rect y="472.80" width="9.8" height="7.00" fill="#3a5a72"/>
<rect y="479.20" width="9.8" height="6.50" fill="#204d6b"/>
<rect y="485.10" width="9.8" height="2.10" fill="#0a1428"/>
<rect y="486.60" width="9.8" height="3.00" fill="#0b1f3a"/>
<path d="M0 364.50h9.8M0 367.70h9.8M0 370.50h9.8M0 380.30h9.8M0 384.10h9.8M0 387.30h9.8M0 397.10h9.8M0 402.30h9.8M0 406.50h9.8M0 409.30h9.8M0 417.20h9.8M0 422.00h9.8M0 426.40h9.8M0 428.40h9.8M0 431.80h9.8M0 438.20h9.8M0 442.20h9.8M0 449.60h9.8M0 468.30h9.8M0 472.80h9.8M0 479.20h9.8M0 485.10h9.8M0 486.60h9.8" stroke="#1a1a14" stroke-opacity="0.75" stroke-width="0.8"/>
<rect y="352.30" width="9.8" height="137.30" fill="none" stroke="#8a8a8a" stroke-width="0.8"/>
</g>
<text x="314.0" y="343.0" font-size="16" class="g" fill="#2b2a24" textLength="30.8" lengthAdjust="spacingAndGlyphs">6156</text>
<g transform="translate(296.1,0)">
<rect y="352.30" width="9.8" height="3.90" fill="#1e220d"/>
<rect y="355.60" width="9.8" height="4.30" fill="#2a2b13"/>
<rect y="359.30" width="9.8" height="10.40" fill="#4a4520"/>
<rect y="369.10" width="9.8" height="5.80" fill="#575024"/>
<rect y="374.30" width="9.8" height="3.90" fill="#766b3e"/>
<rect y="377.60" width="9.8" height="6.10" fill="#9b8f6f"/>
<rect y="383.10" width="9.8" height="5.80" fill="#a9a084"/>
<rect y="388.30" width="9.8" height="7.60" fill="#b0a88e"/>
<rect y="395.30" width="9.8" height="4.80" fill="#c0b8a3"/>
<rect y="399.50" width="9.8" height="5.20" fill="#cfc7b7"/>
<rect y="404.10" width="9.8" height="6.70" fill="#ece8e2"/>
<rect y="410.20" width="9.8" height="5.30" fill="#f4f0ef"/>
<rect y="414.90" width="9.8" height="5.70" fill="#ecebed"/>
<rect y="420.00" width="9.8" height="9.00" fill="#dcdee0"/>
<rect y="428.40" width="9.8" height="4.00" fill="#c8cbd0"/>
<rect y="431.80" width="9.8" height="5.10" fill="#a0abb5"/>
<rect y="436.30" width="9.8" height="4.50" fill="#939fac"/>
<rect y="440.20" width="9.8" height="6.00" fill="#8292a1"/>
<rect y="445.60" width="9.8" height="5.10" fill="#718497"/>
<rect y="450.10" width="9.8" height="4.00" fill="#62788c"/>
<rect y="453.50" width="9.8" height="7.50" fill="#546d83"/>
<rect y="460.40" width="9.8" height="6.50" fill="#4a6579"/>
<rect y="466.30" width="9.8" height="4.60" fill="#3a5a72"/>
<rect y="470.30" width="9.8" height="5.50" fill="#204d6b"/>
<rect y="475.20" width="9.8" height="8.50" fill="#102d4c"/>
<rect y="483.10" width="9.8" height="6.50" fill="#0b1f3a"/>
<path d="M0 355.60h9.8M0 359.30h9.8M0 369.10h9.8M0 374.30h9.8M0 377.60h9.8M0 383.10h9.8M0 388.30h9.8M0 395.30h9.8M0 399.50h9.8M0 404.10h9.8M0 410.20h9.8M0 414.90h9.8M0 420.00h9.8M0 428.40h9.8M0 431.80h9.8M0 436.30h9.8M0 440.20h9.8M0 445.60h9.8M0 450.10h9.8M0 453.50h9.8M0 460.40h9.8M0 466.30h9.8M0 470.30h9.8M0 475.20h9.8M0 483.10h9.8" stroke="#1a1a14" stroke-opacity="0.75" stroke-width="0.8"/>
<rect y="352.30" width="9.8" height="137.30" fill="none" stroke="#8a8a8a" stroke-width="0.8"/>
</g>
<g transform="translate(336.4,0)">
<rect y="352.30" width="9.8" height="3.00" fill="#1e220d"/>
<rect y="354.70" width="9.8" height="3.40" fill="#2a2b13"/>
<rect y="357.50" width="9.8" height="8.50" fill="#4a4520"/>
<rect y="365.40" width="9.8" height="5.70" fill="#575024"/>
<rect y="370.50" width="9.8" height="2.50" fill="#695d2d"/>
<rect y="372.40" width="9.8" height="2.00" fill="#766b3e"/>
<rect y="373.80" width="9.8" height="4.30" fill="#9b8f6f"/>
<rect y="377.50" width="9.8" height="6.70" fill="#a9a084"/>
<rect y="383.60" width="9.8" height="3.40" fill="#b0a88e"/>
<rect y="386.40" width="9.8" height="7.60" fill="#c0b8a3"/>
<rect y="393.40" width="9.8" height="5.50" fill="#cfc7b7"/>
<rect y="398.30" width="9.8" height="5.50" fill="#ece8e2"/>
<rect y="403.20" width="9.8" height="6.70" fill="#f4f0ef"/>
<rect y="409.30" width="9.8" height="7.60" fill="#ecebed"/>
<rect y="416.30" width="9.8" height="5.30" fill="#dcdee0"/>
<rect y="421.00" width="9.8" height="2.00" fill="#dcdee0"/>
<rect y="422.40" width="9.8" height="3.10" fill="#c8cbd0"/>
<rect y="424.90" width="9.8" height="5.50" fill="#b3bac3"/>
<rect y="429.80" width="9.8" height="3.10" fill="#a0abb5"/>
<rect y="432.30" width="9.8" height="8.50" fill="#939fac"/>
<rect y="440.20" width="9.8" height="5.00" fill="#8292a1"/>
<rect y="444.60" width="9.8" height="9.50" fill="#62788c"/>
<rect y="453.50" width="9.8" height="4.10" fill="#546d83"/>
<rect y="457.00" width="9.8" height="4.00" fill="#4a6579"/>
<rect y="460.40" width="9.8" height="7.50" fill="#204d6b"/>
<rect y="467.30" width="9.8" height="2.10" fill="#0f2035"/>
<rect y="468.80" width="9.8" height="13.90" fill="#102d4c"/>
<rect y="482.10" width="9.8" height="7.50" fill="#0b1f3a"/>
<path d="M0 354.70h9.8M0 357.50h9.8M0 365.40h9.8M0 370.50h9.8M0 372.40h9.8M0 373.80h9.8M0 377.50h9.8M0 383.60h9.8M0 386.40h9.8M0 393.40h9.8M0 398.30h9.8M0 403.20h9.8M0 409.30h9.8M0 416.30h9.8M0 421.00h9.8M0 422.40h9.8M0 424.90h9.8M0 429.80h9.8M0 432.30h9.8M0 440.20h9.8M0 444.60h9.8M0 453.50h9.8M0 457.00h9.8M0 460.40h9.8M0 467.30h9.8M0 468.80h9.8M0 482.10h9.8" stroke="#1a1a14" stroke-opacity="0.75" stroke-width="0.8"/>
<rect y="352.30" width="9.8" height="137.30" fill="none" stroke="#8a8a8a" stroke-width="0.8"/>
</g>
<g transform="translate(348.0,0)">
<rect y="352.30" width="9.8" height="3.80" fill="#1e220d"/>
<rect y="355.50" width="9.8" height="4.00" fill="#2a2b13"/>
<rect y="358.90" width="9.8" height="7.10" fill="#4a4520"/>
<rect y="365.40" width="9.8" height="8.10" fill="#575024"/>
<rect y="372.90" width="9.8" height="1.50" fill="#766b3e"/>
<rect y="373.80" width="9.8" height="4.80" fill="#9b8f6f"/>
<rect y="378.00" width="9.8" height="6.20" fill="#a9a084"/>
<rect y="383.60" width="9.8" height="4.30" fill="#b0a88e"/>
<rect y="387.30" width="9.8" height="7.60" fill="#c0b8a3"/>
<rect y="394.30" width="9.8" height="7.40" fill="#cfc7b7"/>
<rect y="401.10" width="9.8" height="5.50" fill="#ece8e2"/>
<rect y="406.00" width="9.8" height="8.10" fill="#f4f0ef"/>
<rect y="413.50" width="9.8" height="8.10" fill="#ecebed"/>
<rect y="421.00" width="9.8" height="4.50" fill="#e6e6e8"/>
<rect y="424.90" width="9.8" height="5.50" fill="#c8cbd0"/>
<rect y="429.80" width="9.8" height="5.10" fill="#b3bac3"/>
<rect y="434.30" width="9.8" height="2.60" fill="#a0abb5"/>
<rect y="436.30" width="9.8" height="9.40" fill="#939fac"/>
<rect y="445.10" width="9.8" height="3.60" fill="#8292a1"/>
<rect y="448.10" width="9.8" height="3.10" fill="#718497"/>
<rect y="450.60" width="9.8" height="8.00" fill="#62788c"/>
<rect y="458.00" width="9.8" height="4.00" fill="#546d83"/>
<rect y="461.40" width="9.8" height="3.60" fill="#4a6579"/>
<rect y="464.40" width="9.8" height="9.00" fill="#204d6b"/>
<rect y="472.80" width="9.8" height="9.90" fill="#102d4c"/>
<rect y="482.10" width="9.8" height="7.50" fill="#0b1f3a"/>
<path d="M0 355.50h9.8M0 358.90h9.8M0 365.40h9.8M0 372.90h9.8M0 373.80h9.8M0 378.00h9.8M0 383.60h9.8M0 387.30h9.8M0 394.30h9.8M0 401.10h9.8M0 406.00h9.8M0 413.50h9.8M0 421.00h9.8M0 424.90h9.8M0 429.80h9.8M0 434.30h9.8M0 436.30h9.8M0 445.10h9.8M0 448.10h9.8M0 450.60h9.8M0 458.00h9.8M0 461.40h9.8M0 464.40h9.8M0 472.80h9.8M0 482.10h9.8" stroke="#1a1a14" stroke-opacity="0.75" stroke-width="0.8"/>
<rect y="352.30" width="9.8" height="137.30" fill="none" stroke="#8a8a8a" stroke-width="0.8"/>
</g>
<g transform="translate(359.7,0)">
<rect y="352.30" width="9.8" height="2.50" fill="#1e220d"/>
<rect y="354.20" width="9.8" height="3.90" fill="#3a3818"/>
<rect y="357.50" width="9.8" height="6.60" fill="#4a4520"/>
<rect y="363.50" width="9.8" height="6.20" fill="#575024"/>
<rect y="369.10" width="9.8" height="3.90" fill="#695d2d"/>
<rect y="372.40" width="9.8" height="1.40" fill="#766b3e"/>
<rect y="373.20" width="9.8" height="4.50" fill="#9b8f6f"/>
<rect y="377.10" width="9.8" height="6.20" fill="#a9a084"/>
<rect y="382.70" width="9.8" height="3.40" fill="#b0a88e"/>
<rect y="385.50" width="9.8" height="7.60" fill="#c0b8a3"/>
<rect y="392.50" width="9.8" height="8.50" fill="#cfc7b7"/>
<rect y="400.40" width="9.8" height="4.80" fill="#ece8e2"/>
<rect y="404.60" width="9.8" height="7.10" fill="#f4f0ef"/>
<rect y="411.10" width="9.8" height="8.50" fill="#ecebed"/>
<rect y="419.00" width="9.8" height="4.50" fill="#ecebed"/>
<rect y="422.90" width="9.8" height="3.60" fill="#c8cbd0"/>
<rect y="425.90" width="9.8" height="7.00" fill="#b3bac3"/>
<rect y="432.30" width="9.8" height="2.60" fill="#a0abb5"/>
<rect y="434.30" width="9.8" height="8.50" fill="#939fac"/>
<rect y="442.20" width="9.8" height="3.50" fill="#8292a1"/>
<rect y="445.10" width="9.8" height="3.10" fill="#718497"/>
<rect y="447.60" width="9.8" height="7.00" fill="#62788c"/>
<rect y="454.00" width="9.8" height="2.60" fill="#546d83"/>
<rect y="456.00" width="9.8" height="4.00" fill="#4a6579"/>
<rect y="459.40" width="9.8" height="10.50" fill="#204d6b"/>
<rect y="469.30" width="9.8" height="14.40" fill="#102d4c"/>
<rect y="483.10" width="9.8" height="6.50" fill="#0b1f3a"/>
<path d="M0 354.20h9.8M0 357.50h9.8M0 363.50h9.8M0 369.10h9.8M0 372.40h9.8M0 373.20h9.8M0 377.10h9.8M0 382.70h9.8M0 385.50h9.8M0 392.50h9.8M0 400.40h9.8M0 404.60h9.8M0 411.10h9.8M0 419.00h9.8M0 422.90h9.8M0 425.90h9.8M0 432.30h9.8M0 434.30h9.8M0 442.20h9.8M0 445.10h9.8M0 447.60h9.8M0 454.00h9.8M0 456.00h9.8M0 459.40h9.8M0 469.30h9.8M0 483.10h9.8" stroke="#1a1a14" stroke-opacity="0.75" stroke-width="0.8"/>
<rect y="352.30" width="9.8" height="137.30" fill="none" stroke="#8a8a8a" stroke-width="0.8"/>
</g>
<text x="434.0" y="343.0" font-size="16" class="g" fill="#2b2a24" textLength="30.4" lengthAdjust="spacingAndGlyphs">5833</text>
<g transform="translate(415.7,0)">
<rect y="352.30" width="9.8" height="6.70" fill="#1e220d"/>
<rect y="358.40" width="9.8" height="5.30" fill="#2a2b13"/>
<rect y="363.10" width="9.8" height="11.80" fill="#4a4520"/>
<rect y="374.30" width="9.8" height="3.80" fill="#575024"/>
<rect y="377.50" width="9.8" height="5.30" fill="#766b3e"/>
<rect y="382.20" width="9.8" height="8.50" fill="#9b8f6f"/>
<rect y="390.10" width="9.8" height="4.80" fill="#a9a084"/>
<rect y="394.30" width="9.8" height="6.70" fill="#b0a88e"/>
<rect y="400.40" width="9.8" height="4.80" fill="#c0b8a3"/>
<rect y="404.60" width="9.8" height="3.90" fill="#cfc7b7"/>
<rect y="407.90" width="9.8" height="4.30" fill="#ece8e2"/>
<rect y="411.60" width="9.8" height="3.40" fill="#f4f0ef"/>
<rect y="414.40" width="9.8" height="6.40" fill="#ecebed"/>
<rect y="420.20" width="9.8" height="7.80" fill="#dcdee0"/>
<rect y="427.40" width="9.8" height="5.50" fill="#c8cbd0"/>
<rect y="432.30" width="9.8" height="3.60" fill="#b3bac3"/>
<rect y="435.30" width="9.8" height="3.50" fill="#a0abb5"/>
<rect y="438.20" width="9.8" height="5.60" fill="#939fac"/>
<rect y="443.20" width="9.8" height="7.50" fill="#8292a1"/>
<rect y="450.10" width="9.8" height="8.50" fill="#62788c"/>
<rect y="458.00" width="9.8" height="7.00" fill="#546d83"/>
<rect y="464.40" width="9.8" height="5.50" fill="#3a5a72"/>
<rect y="469.30" width="9.8" height="6.50" fill="#204d6b"/>
<rect y="475.20" width="9.8" height="9.50" fill="#102d4c"/>
<rect y="484.10" width="9.8" height="5.50" fill="#0b1f3a"/>
<path d="M0 358.40h9.8M0 363.10h9.8M0 374.30h9.8M0 377.50h9.8M0 382.20h9.8M0 390.10h9.8M0 394.30h9.8M0 400.40h9.8M0 404.60h9.8M0 407.90h9.8M0 411.60h9.8M0 414.40h9.8M0 420.20h9.8M0 427.40h9.8M0 432.30h9.8M0 435.30h9.8M0 438.20h9.8M0 443.20h9.8M0 450.10h9.8M0 458.00h9.8M0 464.40h9.8M0 469.30h9.8M0 475.20h9.8M0 484.10h9.8" stroke="#1a1a14" stroke-opacity="0.75" stroke-width="0.8"/>
<rect y="352.30" width="9.8" height="137.30" fill="none" stroke="#8a8a8a" stroke-width="0.8"/>
</g>
<g transform="translate(457.2,0)">
<rect y="352.30" width="9.8" height="4.80" fill="#1e220d"/>
<rect y="356.50" width="9.8" height="3.40" fill="#2a2b13"/>
<rect y="359.30" width="9.8" height="3.90" fill="#3a3818"/>
<rect y="362.60" width="9.8" height="14.10" fill="#4a4520"/>
<rect y="376.10" width="9.8" height="4.40" fill="#575024"/>
<rect y="379.90" width="9.8" height="3.40" fill="#695d2d"/>
<rect y="382.70" width="9.8" height="10.80" fill="#9b8f6f"/>
<rect y="392.90" width="9.8" height="8.10" fill="#a9a084"/>
<rect y="400.40" width="9.8" height="5.70" fill="#b0a88e"/>
<rect y="405.50" width="9.8" height="5.30" fill="#c0b8a3"/>
<rect y="410.20" width="9.8" height="3.90" fill="#c5bda9"/>
<rect y="413.50" width="9.8" height="2.40" fill="#ece8e2"/>
<rect y="415.30" width="9.8" height="2.50" fill="#f4f0ef"/>
<rect y="417.20" width="9.8" height="2.90" fill="#ecebed"/>
<rect y="419.50" width="9.8" height="5.00" fill="#ecebed"/>
<rect y="423.90" width="9.8" height="6.50" fill="#dcdee0"/>
<rect y="429.80" width="9.8" height="3.10" fill="#c8cbd0"/>
<rect y="432.30" width="9.8" height="4.60" fill="#b3bac3"/>
<rect y="436.30" width="9.8" height="4.50" fill="#a0abb5"/>
<rect y="440.20" width="9.8" height="2.60" fill="#939fac"/>
<rect y="442.20" width="9.8" height="6.50" fill="#8292a1"/>
<rect y="448.10" width="9.8" height="3.60" fill="#718497"/>
<rect y="451.10" width="9.8" height="5.00" fill="#62788c"/>
<rect y="455.50" width="9.8" height="7.50" fill="#546d83"/>
<rect y="462.40" width="9.8" height="4.50" fill="#4a6579"/>
<rect y="466.30" width="9.8" height="6.60" fill="#3a5a72"/>
<rect y="472.30" width="9.8" height="3.50" fill="#204d6b"/>
<rect y="475.20" width="9.8" height="2.60" fill="#0a1428"/>
<rect y="477.20" width="9.8" height="12.40" fill="#0b1f3a"/>
<path d="M0 356.50h9.8M0 359.30h9.8M0 362.60h9.8M0 376.10h9.8M0 379.90h9.8M0 382.70h9.8M0 392.90h9.8M0 400.40h9.8M0 405.50h9.8M0 410.20h9.8M0 413.50h9.8M0 415.30h9.8M0 417.20h9.8M0 419.50h9.8M0 423.90h9.8M0 429.80h9.8M0 432.30h9.8M0 436.30h9.8M0 440.20h9.8M0 442.20h9.8M0 448.10h9.8M0 451.10h9.8M0 455.50h9.8M0 462.40h9.8M0 466.30h9.8M0 472.30h9.8M0 475.20h9.8M0 477.20h9.8" stroke="#1a1a14" stroke-opacity="0.75" stroke-width="0.8"/>
<rect y="352.30" width="9.8" height="137.30" fill="none" stroke="#8a8a8a" stroke-width="0.8"/>
</g>
<g transform="translate(468.9,0)">
<rect y="352.30" width="9.8" height="4.80" fill="#1e220d"/>
<rect y="356.50" width="9.8" height="3.40" fill="#2a2b13"/>
<rect y="359.30" width="9.8" height="3.90" fill="#3a3818"/>
<rect y="362.60" width="9.8" height="6.20" fill="#4a4520"/>
<rect y="368.20" width="9.8" height="3.40" fill="#575024"/>
<rect y="371.00" width="9.8" height="4.10" fill="#695d2d"/>
<rect y="374.50" width="9.8" height="7.40" fill="#9b8f6f"/>
<rect y="381.30" width="9.8" height="3.40" fill="#a9a084"/>
<rect y="384.10" width="9.8" height="4.80" fill="#b0a88e"/>
<rect y="388.30" width="9.8" height="3.40" fill="#c0b8a3"/>
<rect y="391.10" width="9.8" height="6.60" fill="#cfc7b7"/>
<rect y="397.10" width="9.8" height="2.50" fill="#dfd8cc"/>
<rect y="399.00" width="9.8" height="2.70" fill="#ece8e2"/>
<rect y="401.10" width="9.8" height="2.70" fill="#f4f0ef"/>
<rect y="403.20" width="9.8" height="11.80" fill="#ecebed"/>
<rect y="414.40" width="9.8" height="5.70" fill="#dcdee0"/>
<rect y="419.50" width="9.8" height="2.10" fill="#c8cbd0"/>
<rect y="421.00" width="9.8" height="2.50" fill="#b3bac3"/>
<rect y="422.90" width="9.8" height="5.60" fill="#a0abb5"/>
<rect y="427.90" width="9.8" height="5.00" fill="#939fac"/>
<rect y="432.30" width="9.8" height="6.50" fill="#8292a1"/>
<rect y="438.20" width="9.8" height="4.10" fill="#718497"/>
<rect y="441.70" width="9.8" height="6.50" fill="#62788c"/>
<rect y="447.60" width="9.8" height="3.60" fill="#546d83"/>
<rect y="450.60" width="9.8" height="9.00" fill="#3a5a72"/>
<rect y="459.00" width="9.8" height="23.70" fill="#204d6b"/>
<rect y="482.10" width="9.8" height="7.50" fill="#0b1f3a"/>
<path d="M0 356.50h9.8M0 359.30h9.8M0 362.60h9.8M0 368.20h9.8M0 371.00h9.8M0 374.50h9.8M0 381.30h9.8M0 384.10h9.8M0 388.30h9.8M0 391.10h9.8M0 397.10h9.8M0 399.00h9.8M0 401.10h9.8M0 403.20h9.8M0 414.40h9.8M0 419.50h9.8M0 421.00h9.8M0 422.90h9.8M0 427.90h9.8M0 432.30h9.8M0 438.20h9.8M0 441.70h9.8M0 447.60h9.8M0 450.60h9.8M0 459.00h9.8M0 482.10h9.8" stroke="#1a1a14" stroke-opacity="0.75" stroke-width="0.8"/>
<rect y="352.30" width="9.8" height="137.30" fill="none" stroke="#8a8a8a" stroke-width="0.8"/>
</g>
<g transform="translate(480.5,0)">
<rect y="352.30" width="9.8" height="3.90" fill="#1e220d"/>
<rect y="355.60" width="9.8" height="4.30" fill="#2a2b13"/>
<rect y="359.30" width="9.8" height="4.80" fill="#3a3818"/>
<rect y="363.50" width="9.8" height="8.60" fill="#4a4520"/>
<rect y="371.50" width="9.8" height="7.60" fill="#575024"/>
<rect y="378.50" width="9.8" height="4.30" fill="#766b3e"/>
<rect y="382.20" width="9.8" height="6.70" fill="#9b8f6f"/>
<rect y="388.30" width="9.8" height="3.40" fill="#a9a084"/>
<rect y="391.10" width="9.8" height="4.80" fill="#b0a88e"/>
<rect y="395.30" width="9.8" height="3.80" fill="#c0b8a3"/>
<rect y="398.50" width="9.8" height="6.20" fill="#cfc7b7"/>
<rect y="404.10" width="9.8" height="2.50" fill="#dfd8cc"/>
<rect y="406.00" width="9.8" height="2.90" fill="#ece8e2"/>
<rect y="408.30" width="9.8" height="2.50" fill="#f4f0ef"/>
<rect y="410.20" width="9.8" height="9.00" fill="#ecebed"/>
<rect y="418.60" width="9.8" height="2.00" fill="#dcdee0"/>
<rect y="420.00" width="9.8" height="5.50" fill="#ecebed"/>
<rect y="424.90" width="9.8" height="3.10" fill="#dcdee0"/>
<rect y="427.40" width="9.8" height="4.50" fill="#b3bac3"/>
<rect y="431.30" width="9.8" height="3.60" fill="#a0abb5"/>
<rect y="434.30" width="9.8" height="4.00" fill="#939fac"/>
<rect y="437.70" width="9.8" height="5.60" fill="#8292a1"/>
<rect y="442.70" width="9.8" height="5.50" fill="#718497"/>
<rect y="447.60" width="9.8" height="5.50" fill="#546d83"/>
<rect y="452.50" width="9.8" height="5.60" fill="#4a6579"/>
<rect y="457.50" width="9.8" height="6.00" fill="#3a5a72"/>
<rect y="462.90" width="9.8" height="20.80" fill="#204d6b"/>
<rect y="483.10" width="9.8" height="6.50" fill="#0b1f3a"/>
<path d="M0 355.60h9.8M0 359.30h9.8M0 363.50h9.8M0 371.50h9.8M0 378.50h9.8M0 382.20h9.8M0 388.30h9.8M0 391.10h9.8M0 395.30h9.8M0 398.50h9.8M0 404.10h9.8M0 406.00h9.8M0 408.30h9.8M0 410.20h9.8M0 418.60h9.8M0 420.00h9.8M0 424.90h9.8M0 427.40h9.8M0 431.30h9.8M0 434.30h9.8M0 437.70h9.8M0 442.70h9.8M0 447.60h9.8M0 452.50h9.8M0 457.50h9.8M0 462.90h9.8M0 483.10h9.8" stroke="#1a1a14" stroke-opacity="0.75" stroke-width="0.8"/>
<rect y="352.30" width="9.8" height="137.30" fill="none" stroke="#8a8a8a" stroke-width="0.8"/>
</g>
<text x="537.7" y="343.0" font-size="16" class="g" fill="#2b2a24" textLength="63.3" lengthAdjust="spacingAndGlyphs">Pure Keio</text>
<g transform="translate(536.1,0)">
<rect y="352.30" width="9.8" height="7.20" fill="#1e220d"/>
<rect y="358.90" width="9.8" height="2.40" fill="#2a2b13"/>
<rect y="360.70" width="9.8" height="2.50" fill="#3a3818"/>
<rect y="362.60" width="9.8" height="9.50" fill="#4a4520"/>
<rect y="371.50" width="9.8" height="6.20" fill="#575024"/>
<rect y="377.10" width="9.8" height="6.90" fill="#766b3e"/>
<rect y="383.40" width="9.8" height="1.70" fill="#3a3422"/>
<rect y="384.50" width="9.8" height="5.30" fill="#9b8f6f"/>
<rect y="389.20" width="9.8" height="5.30" fill="#a9a084"/>
<rect y="393.90" width="9.8" height="7.10" fill="#b0a88e"/>
<rect y="400.40" width="9.8" height="4.30" fill="#c0b8a3"/>
<rect y="404.10" width="9.8" height="6.20" fill="#cfc7b7"/>
<rect y="409.70" width="9.8" height="5.30" fill="#ece8e2"/>
<rect y="414.40" width="9.8" height="6.20" fill="#f4f0ef"/>
<rect y="420.00" width="9.8" height="5.00" fill="#ecebed"/>
<rect y="424.40" width="9.8" height="6.50" fill="#dcdee0"/>
<rect y="430.30" width="9.8" height="4.60" fill="#c8cbd0"/>
<rect y="434.30" width="9.8" height="4.50" fill="#b3bac3"/>
<rect y="438.20" width="9.8" height="3.60" fill="#a0abb5"/>
<rect y="441.20" width="9.8" height="4.50" fill="#939fac"/>
<rect y="445.10" width="9.8" height="6.10" fill="#8292a1"/>
<rect y="450.60" width="9.8" height="4.50" fill="#718497"/>
<rect y="454.50" width="9.8" height="6.00" fill="#62788c"/>
<rect y="459.90" width="9.8" height="5.60" fill="#546d83"/>
<rect y="464.90" width="9.8" height="6.00" fill="#4a6579"/>
<rect y="470.30" width="9.8" height="7.50" fill="#204d6b"/>
<rect y="477.20" width="9.8" height="6.50" fill="#102d4c"/>
<rect y="483.10" width="9.8" height="6.50" fill="#0b1f3a"/>
<path d="M0 358.90h9.8M0 360.70h9.8M0 362.60h9.8M0 371.50h9.8M0 377.10h9.8M0 383.40h9.8M0 384.50h9.8M0 389.20h9.8M0 393.90h9.8M0 400.40h9.8M0 404.10h9.8M0 409.70h9.8M0 414.40h9.8M0 420.00h9.8M0 424.40h9.8M0 430.30h9.8M0 434.30h9.8M0 438.20h9.8M0 441.20h9.8M0 445.10h9.8M0 450.60h9.8M0 454.50h9.8M0 459.90h9.8M0 464.90h9.8M0 470.30h9.8M0 477.20h9.8M0 483.10h9.8" stroke="#1a1a14" stroke-opacity="0.75" stroke-width="0.8"/>
<rect y="352.30" width="9.8" height="137.30" fill="none" stroke="#8a8a8a" stroke-width="0.8"/>
</g>
<g transform="translate(576.4,0)">
<rect y="352.30" width="9.8" height="6.20" fill="#1e220d"/>
<rect y="357.90" width="9.8" height="4.80" fill="#2a2b13"/>
<rect y="362.10" width="9.8" height="8.60" fill="#4a4520"/>
<rect y="370.10" width="9.8" height="3.80" fill="#575024"/>
<rect y="373.30" width="9.8" height="5.30" fill="#695d2d"/>
<rect y="378.00" width="9.8" height="5.70" fill="#9b8f6f"/>
<rect y="383.10" width="9.8" height="3.90" fill="#a9a084"/>
<rect y="386.40" width="9.8" height="5.30" fill="#b0a88e"/>
<rect y="391.10" width="9.8" height="5.70" fill="#c0b8a3"/>
<rect y="396.20" width="9.8" height="7.60" fill="#cfc7b7"/>
<rect y="403.20" width="9.8" height="5.70" fill="#ece8e2"/>
<rect y="408.30" width="9.8" height="5.80" fill="#f4f0ef"/>
<rect y="413.50" width="9.8" height="7.10" fill="#ecebed"/>
<rect y="420.00" width="9.8" height="5.00" fill="#e4e5e7"/>
<rect y="424.40" width="9.8" height="4.10" fill="#dcdee0"/>
<rect y="427.90" width="9.8" height="6.50" fill="#b3bac3"/>
<rect y="433.80" width="9.8" height="9.00" fill="#a0abb5"/>
<rect y="442.20" width="9.8" height="3.50" fill="#8292a1"/>
<rect y="445.10" width="9.8" height="5.60" fill="#718497"/>
<rect y="450.10" width="9.8" height="6.50" fill="#62788c"/>
<rect y="456.00" width="9.8" height="10.00" fill="#546d83"/>
<rect y="465.40" width="9.8" height="6.50" fill="#3a5a72"/>
<rect y="471.30" width="9.8" height="10.40" fill="#204d6b"/>
<rect y="481.10" width="9.8" height="2.50" fill="#0a1428"/>
<rect y="483.00" width="9.8" height="6.60" fill="#0b1f3a"/>
<path d="M0 357.90h9.8M0 362.10h9.8M0 370.10h9.8M0 373.30h9.8M0 378.00h9.8M0 383.10h9.8M0 386.40h9.8M0 391.10h9.8M0 396.20h9.8M0 403.20h9.8M0 408.30h9.8M0 413.50h9.8M0 420.00h9.8M0 424.40h9.8M0 427.90h9.8M0 433.80h9.8M0 442.20h9.8M0 445.10h9.8M0 450.10h9.8M0 456.00h9.8M0 465.40h9.8M0 471.30h9.8M0 481.10h9.8M0 483.00h9.8" stroke="#1a1a14" stroke-opacity="0.75" stroke-width="0.8"/>
<rect y="352.30" width="9.8" height="137.30" fill="none" stroke="#8a8a8a" stroke-width="0.8"/>
</g>
<g transform="translate(588.2,0)">
<rect y="352.30" width="9.8" height="10.00" fill="#1e220d"/>
<rect y="361.70" width="9.8" height="5.20" fill="#2a2b13"/>
<rect y="366.30" width="9.8" height="6.70" fill="#4a4520"/>
<rect y="372.40" width="9.8" height="3.90" fill="#575024"/>
<rect y="375.70" width="9.8" height="4.30" fill="#695d2d"/>
<rect y="379.40" width="9.8" height="4.30" fill="#9b8f6f"/>
<rect y="383.10" width="9.8" height="3.00" fill="#a9a084"/>
<rect y="385.50" width="9.8" height="5.70" fill="#b0a88e"/>
<rect y="390.60" width="9.8" height="4.30" fill="#c0b8a3"/>
<rect y="394.30" width="9.8" height="7.60" fill="#cfc7b7"/>
<rect y="401.30" width="9.8" height="11.40" fill="#dfd8cc"/>
<rect y="412.10" width="9.8" height="4.80" fill="#ece8e2"/>
<rect y="416.30" width="9.8" height="6.30" fill="#f4f0ef"/>
<rect y="422.00" width="9.8" height="6.50" fill="#ecebed"/>
<rect y="427.90" width="9.8" height="5.00" fill="#e1e2e4"/>
<rect y="432.30" width="9.8" height="4.10" fill="#c8cbd0"/>
<rect y="435.80" width="9.8" height="5.00" fill="#b3bac3"/>
<rect y="440.20" width="9.8" height="2.60" fill="#a0abb5"/>
<rect y="442.20" width="9.8" height="5.50" fill="#939fac"/>
<rect y="447.10" width="9.8" height="3.60" fill="#718497"/>
<rect y="450.10" width="9.8" height="6.00" fill="#62788c"/>
<rect y="455.50" width="9.8" height="5.50" fill="#546d83"/>
<rect y="460.40" width="9.8" height="8.50" fill="#4a6579"/>
<rect y="468.30" width="9.8" height="6.70" fill="#3a5a72"/>
<rect y="474.40" width="9.8" height="8.30" fill="#204d6b"/>
<rect y="482.10" width="9.8" height="3.60" fill="#102d4c"/>
<rect y="485.10" width="9.8" height="4.50" fill="#0b1f3a"/>
<path d="M0 361.70h9.8M0 366.30h9.8M0 372.40h9.8M0 375.70h9.8M0 379.40h9.8M0 383.10h9.8M0 385.50h9.8M0 390.60h9.8M0 394.30h9.8M0 401.30h9.8M0 412.10h9.8M0 416.30h9.8M0 422.00h9.8M0 427.90h9.8M0 432.30h9.8M0 435.80h9.8M0 440.20h9.8M0 442.20h9.8M0 447.10h9.8M0 450.10h9.8M0 455.50h9.8M0 460.40h9.8M0 468.30h9.8M0 474.40h9.8M0 482.10h9.8M0 485.10h9.8" stroke="#1a1a14" stroke-opacity="0.75" stroke-width="0.8"/>
<rect y="352.30" width="9.8" height="137.30" fill="none" stroke="#8a8a8a" stroke-width="0.8"/>
</g>
<g transform="translate(600.0,0)">
<rect y="352.30" width="9.8" height="10.40" fill="#1e220d"/>
<rect y="362.10" width="9.8" height="4.80" fill="#2a2b13"/>
<rect y="366.30" width="9.8" height="6.70" fill="#4a4520"/>
<rect y="372.40" width="9.8" height="4.80" fill="#575024"/>
<rect y="376.60" width="9.8" height="4.30" fill="#695d2d"/>
<rect y="380.30" width="9.8" height="4.40" fill="#9b8f6f"/>
<rect y="384.10" width="9.8" height="2.90" fill="#a9a084"/>
<rect y="386.40" width="9.8" height="5.70" fill="#b0a88e"/>
<rect y="391.50" width="9.8" height="5.30" fill="#c0b8a3"/>
<rect y="396.20" width="9.8" height="7.60" fill="#cfc7b7"/>
<rect y="403.20" width="9.8" height="6.70" fill="#dfd8cc"/>
<rect y="409.30" width="9.8" height="5.70" fill="#ece8e2"/>
<rect y="414.40" width="9.8" height="6.20" fill="#f4f0ef"/>
<rect y="420.00" width="9.8" height="6.50" fill="#f2f1f1"/>
<rect y="425.90" width="9.8" height="5.00" fill="#ecebed"/>
<rect y="430.30" width="9.8" height="3.60" fill="#dcdee0"/>
<rect y="433.30" width="9.8" height="7.00" fill="#b3bac3"/>
<rect y="439.70" width="9.8" height="2.60" fill="#a0abb5"/>
<rect y="441.70" width="9.8" height="7.50" fill="#939fac"/>
<rect y="448.60" width="9.8" height="6.00" fill="#718497"/>
<rect y="454.00" width="9.8" height="6.00" fill="#62788c"/>
<rect y="459.40" width="9.8" height="8.50" fill="#546d83"/>
<rect y="467.30" width="9.8" height="7.50" fill="#3a5a72"/>
<rect y="474.20" width="9.8" height="9.00" fill="#204d6b"/>
<rect y="482.60" width="9.8" height="3.00" fill="#0a1428"/>
<rect y="485.00" width="9.8" height="4.60" fill="#0b1f3a"/>
<path d="M0 362.10h9.8M0 366.30h9.8M0 372.40h9.8M0 376.60h9.8M0 380.30h9.8M0 384.10h9.8M0 386.40h9.8M0 391.50h9.8M0 396.20h9.8M0 403.20h9.8M0 409.30h9.8M0 414.40h9.8M0 420.00h9.8M0 425.90h9.8M0 430.30h9.8M0 433.30h9.8M0 439.70h9.8M0 441.70h9.8M0 448.60h9.8M0 454.00h9.8M0 459.40h9.8M0 467.30h9.8M0 474.20h9.8M0 482.60h9.8M0 485.00h9.8" stroke="#1a1a14" stroke-opacity="0.75" stroke-width="0.8"/>
<rect y="352.30" width="9.8" height="137.30" fill="none" stroke="#8a8a8a" stroke-width="0.8"/>
</g>
<text x="72.3" y="537.0" font-size="16" class="g" fill="#2b2a24" textLength="33.8" lengthAdjust="spacingAndGlyphs">D021</text>
<g transform="translate(52.5,0)">
<rect y="548.30" width="9.8" height="3.80" fill="#1e220d"/>
<rect y="551.50" width="9.8" height="3.40" fill="#2a2b13"/>
<rect y="554.30" width="9.8" height="11.40" fill="#4a4520"/>
<rect y="565.10" width="9.8" height="6.20" fill="#575024"/>
<rect y="570.70" width="9.8" height="4.30" fill="#4a4228"/>
<rect y="574.40" width="9.8" height="4.30" fill="#9b8f6f"/>
<rect y="578.10" width="9.8" height="6.70" fill="#a9a084"/>
<rect y="584.20" width="9.8" height="4.80" fill="#b0a88e"/>
<rect y="588.40" width="9.8" height="6.20" fill="#c0b8a3"/>
<rect y="594.00" width="9.8" height="4.80" fill="#cfc7b7"/>
<rect y="598.20" width="9.8" height="2.00" fill="#a9a496"/>
<rect y="599.60" width="9.8" height="6.20" fill="#ece8e2"/>
<rect y="605.20" width="9.8" height="6.20" fill="#f4f0ef"/>
<rect y="610.80" width="9.8" height="6.80" fill="#ecebed"/>
<rect y="617.00" width="9.8" height="8.90" fill="#dcdee0"/>
<rect y="625.30" width="9.8" height="4.10" fill="#c8cbd0"/>
<rect y="628.80" width="9.8" height="6.00" fill="#b3bac3"/>
<rect y="634.20" width="9.8" height="4.60" fill="#a0abb5"/>
<rect y="638.20" width="9.8" height="6.50" fill="#8292a1"/>
<rect y="644.10" width="9.8" height="5.50" fill="#718497"/>
<rect y="649.00" width="9.8" height="3.10" fill="#566d82"/>
<rect y="651.50" width="9.8" height="8.00" fill="#546d83"/>
<rect y="658.90" width="9.8" height="4.00" fill="#4a6579"/>
<rect y="662.30" width="9.8" height="3.60" fill="#3a5a72"/>
<rect y="665.30" width="9.8" height="6.50" fill="#204d6b"/>
<rect y="671.20" width="9.8" height="7.50" fill="#102d4c"/>
<rect y="678.10" width="9.8" height="7.00" fill="#0b1f3a"/>
<path d="M0 551.50h9.8M0 554.30h9.8M0 565.10h9.8M0 570.70h9.8M0 574.40h9.8M0 578.10h9.8M0 584.20h9.8M0 588.40h9.8M0 594.00h9.8M0 598.20h9.8M0 599.60h9.8M0 605.20h9.8M0 610.80h9.8M0 617.00h9.8M0 625.30h9.8M0 628.80h9.8M0 634.20h9.8M0 638.20h9.8M0 644.10h9.8M0 649.00h9.8M0 651.50h9.8M0 658.90h9.8M0 662.30h9.8M0 665.30h9.8M0 671.20h9.8M0 678.10h9.8" stroke="#1a1a14" stroke-opacity="0.75" stroke-width="0.8"/>
<rect y="548.30" width="9.8" height="136.80" fill="none" stroke="#8a8a8a" stroke-width="0.8"/>
</g>
<g transform="translate(100.2,0)">
<rect y="548.30" width="9.8" height="2.90" fill="#1e220d"/>
<rect y="550.60" width="9.8" height="3.40" fill="#2a2b13"/>
<rect y="553.40" width="9.8" height="11.30" fill="#4a4520"/>
<rect y="564.10" width="9.8" height="4.80" fill="#575024"/>
<rect y="568.30" width="9.8" height="2.50" fill="#766b3e"/>
<rect y="570.20" width="9.8" height="4.80" fill="#9b8f6f"/>
<rect y="574.40" width="9.8" height="7.40" fill="#a9a084"/>
<rect y="581.20" width="9.8" height="3.60" fill="#b0a88e"/>
<rect y="584.20" width="9.8" height="7.60" fill="#c0b8a3"/>
<rect y="591.20" width="9.8" height="5.30" fill="#cfc7b7"/>
<rect y="595.90" width="9.8" height="5.70" fill="#ece8e2"/>
<rect y="601.00" width="9.8" height="4.80" fill="#f4f0ef"/>
<rect y="605.20" width="9.8" height="7.60" fill="#ecebed"/>
<rect y="612.20" width="9.8" height="4.40" fill="#dcdee0"/>
<rect y="616.00" width="9.8" height="4.00" fill="#c8cbd0"/>
<rect y="619.40" width="9.8" height="2.20" fill="#6a6e74"/>
<rect y="621.00" width="9.8" height="4.90" fill="#b3bac3"/>
<rect y="625.30" width="9.8" height="3.60" fill="#a0abb5"/>
<rect y="628.30" width="9.8" height="8.50" fill="#939fac"/>
<rect y="636.20" width="9.8" height="5.00" fill="#718497"/>
<rect y="640.60" width="9.8" height="9.00" fill="#62788c"/>
<rect y="649.00" width="9.8" height="4.10" fill="#546d83"/>
<rect y="652.50" width="9.8" height="3.00" fill="#4a6579"/>
<rect y="654.90" width="9.8" height="7.50" fill="#204d6b"/>
<rect y="661.80" width="9.8" height="16.40" fill="#102d4c"/>
<rect y="677.60" width="9.8" height="7.50" fill="#0b1f3a"/>
<path d="M0 550.60h9.8M0 553.40h9.8M0 564.10h9.8M0 568.30h9.8M0 570.20h9.8M0 574.40h9.8M0 581.20h9.8M0 584.20h9.8M0 591.20h9.8M0 595.90h9.8M0 601.00h9.8M0 605.20h9.8M0 612.20h9.8M0 616.00h9.8M0 619.40h9.8M0 621.00h9.8M0 625.30h9.8M0 628.30h9.8M0 636.20h9.8M0 640.60h9.8M0 649.00h9.8M0 652.50h9.8M0 654.90h9.8M0 661.80h9.8M0 677.60h9.8" stroke="#1a1a14" stroke-opacity="0.75" stroke-width="0.8"/>
<rect y="548.30" width="9.8" height="136.80" fill="none" stroke="#8a8a8a" stroke-width="0.8"/>
</g>
<g transform="translate(111.7,0)">
<rect y="548.30" width="9.8" height="3.40" fill="#1e220d"/>
<rect y="551.10" width="9.8" height="3.80" fill="#2a2b13"/>
<rect y="554.30" width="9.8" height="8.10" fill="#4a4520"/>
<rect y="561.80" width="9.8" height="6.20" fill="#575024"/>
<rect y="567.40" width="9.8" height="2.90" fill="#695d2d"/>
<rect y="569.70" width="9.8" height="3.90" fill="#9b8f6f"/>
<rect y="573.00" width="9.8" height="6.70" fill="#a9a084"/>
<rect y="579.10" width="9.8" height="3.80" fill="#b0a88e"/>
<rect y="582.30" width="9.8" height="6.70" fill="#c0b8a3"/>
<rect y="588.40" width="9.8" height="8.50" fill="#cfc7b7"/>
<rect y="596.30" width="9.8" height="4.80" fill="#ece8e2"/>
<rect y="600.50" width="9.8" height="7.20" fill="#f4f0ef"/>
<rect y="607.10" width="9.8" height="13.40" fill="#ecebed"/>
<rect y="619.90" width="9.8" height="4.10" fill="#dcdee0"/>
<rect y="623.40" width="9.8" height="8.50" fill="#b3bac3"/>
<rect y="631.30" width="9.8" height="2.50" fill="#a0abb5"/>
<rect y="633.20" width="9.8" height="11.00" fill="#939fac"/>
<rect y="643.60" width="9.8" height="4.00" fill="#8292a1"/>
<rect y="647.00" width="9.8" height="4.10" fill="#718497"/>
<rect y="650.50" width="9.8" height="11.40" fill="#62788c"/>
<rect y="661.30" width="9.8" height="3.60" fill="#546d83"/>
<rect y="664.30" width="9.8" height="4.60" fill="#4a6579"/>
<rect y="668.30" width="9.8" height="9.40" fill="#204d6b"/>
<rect y="677.10" width="9.8" height="2.10" fill="#0a1428"/>
<rect y="678.60" width="9.8" height="6.50" fill="#0b1f3a"/>
<path d="M0 551.10h9.8M0 554.30h9.8M0 561.80h9.8M0 567.40h9.8M0 569.70h9.8M0 573.00h9.8M0 579.10h9.8M0 582.30h9.8M0 588.40h9.8M0 596.30h9.8M0 600.50h9.8M0 607.10h9.8M0 619.90h9.8M0 623.40h9.8M0 631.30h9.8M0 633.20h9.8M0 643.60h9.8M0 647.00h9.8M0 650.50h9.8M0 661.30h9.8M0 664.30h9.8M0 668.30h9.8M0 677.10h9.8M0 678.60h9.8" stroke="#1a1a14" stroke-opacity="0.75" stroke-width="0.8"/>
<rect y="548.30" width="9.8" height="136.80" fill="none" stroke="#8a8a8a" stroke-width="0.8"/>
</g>
<g transform="translate(123.2,0)">
<rect y="548.30" width="9.8" height="2.90" fill="#1e220d"/>
<rect y="550.60" width="9.8" height="4.30" fill="#2a2b13"/>
<rect y="554.30" width="9.8" height="9.50" fill="#4a4520"/>
<rect y="563.20" width="9.8" height="4.80" fill="#575024"/>
<rect y="567.40" width="9.8" height="4.80" fill="#695d2d"/>
<rect y="571.60" width="9.8" height="4.30" fill="#9b8f6f"/>
<rect y="575.30" width="9.8" height="6.70" fill="#a9a084"/>
<rect y="581.40" width="9.8" height="3.40" fill="#b0a88e"/>
<rect y="584.20" width="9.8" height="6.70" fill="#c0b8a3"/>
<rect y="590.30" width="9.8" height="8.50" fill="#cfc7b7"/>
<rect y="598.20" width="9.8" height="5.70" fill="#ece8e2"/>
<rect y="603.30" width="9.8" height="5.80" fill="#f4f0ef"/>
<rect y="608.50" width="9.8" height="11.50" fill="#ecebed"/>
<rect y="619.40" width="9.8" height="4.10" fill="#dcdee0"/>
<rect y="622.90" width="9.8" height="6.00" fill="#b3bac3"/>
<rect y="628.30" width="9.8" height="4.00" fill="#a0abb5"/>
<rect y="631.70" width="9.8" height="9.00" fill="#939fac"/>
<rect y="640.10" width="9.8" height="4.10" fill="#8292a1"/>
<rect y="643.60" width="9.8" height="12.40" fill="#62788c"/>
<rect y="655.40" width="9.8" height="7.00" fill="#4a6579"/>
<rect y="661.80" width="9.8" height="10.00" fill="#204d6b"/>
<rect y="671.20" width="9.8" height="1.90" fill="#0a1428"/>
<rect y="672.50" width="9.8" height="6.20" fill="#173f62"/>
<rect y="678.10" width="9.8" height="7.00" fill="#0b1f3a"/>
<path d="M0 550.60h9.8M0 554.30h9.8M0 563.20h9.8M0 567.40h9.8M0 571.60h9.8M0 575.30h9.8M0 581.40h9.8M0 584.20h9.8M0 590.30h9.8M0 598.20h9.8M0 603.30h9.8M0 608.50h9.8M0 619.40h9.8M0 622.90h9.8M0 628.30h9.8M0 631.70h9.8M0 640.10h9.8M0 643.60h9.8M0 655.40h9.8M0 661.80h9.8M0 671.20h9.8M0 672.50h9.8M0 678.10h9.8" stroke="#1a1a14" stroke-opacity="0.75" stroke-width="0.8"/>
<rect y="548.30" width="9.8" height="136.80" fill="none" stroke="#8a8a8a" stroke-width="0.8"/>
</g>
<text x="194.3" y="537.0" font-size="16" class="g" fill="#2b2a24" textLength="30.7" lengthAdjust="spacingAndGlyphs">5865</text>
<g transform="translate(177.9,0)">
<rect y="548.30" width="9.8" height="5.20" fill="#1e220d"/>
<rect y="552.90" width="9.8" height="3.40" fill="#2a2b13"/>
<rect y="555.70" width="9.8" height="5.30" fill="#3a3818"/>
<rect y="560.40" width="9.8" height="11.30" fill="#4a4520"/>
<rect y="571.10" width="9.8" height="4.40" fill="#575024"/>
<rect y="574.90" width="9.8" height="5.70" fill="#766b3e"/>
<rect y="580.00" width="9.8" height="2.20" fill="#3f3822"/>
<rect y="581.60" width="9.8" height="7.90" fill="#9b8f6f"/>
<rect y="588.90" width="9.8" height="4.80" fill="#a9a084"/>
<rect y="593.10" width="9.8" height="5.70" fill="#b0a88e"/>
<rect y="598.20" width="9.8" height="4.30" fill="#c0b8a3"/>
<rect y="601.90" width="9.8" height="5.30" fill="#cfc7b7"/>
<rect y="606.60" width="9.8" height="4.30" fill="#ece8e2"/>
<rect y="610.30" width="9.8" height="5.30" fill="#ecebed"/>
<rect y="615.00" width="9.8" height="3.50" fill="#ecebed"/>
<rect y="617.90" width="9.8" height="7.00" fill="#dcdee0"/>
<rect y="624.30" width="9.8" height="3.60" fill="#c8cbd0"/>
<rect y="627.30" width="9.8" height="7.00" fill="#b3bac3"/>
<rect y="633.70" width="9.8" height="6.00" fill="#939fac"/>
<rect y="639.10" width="9.8" height="7.60" fill="#718497"/>
<rect y="646.10" width="9.8" height="8.00" fill="#62788c"/>
<rect y="653.50" width="9.8" height="5.50" fill="#546d83"/>
<rect y="658.40" width="9.8" height="6.50" fill="#3a5a72"/>
<rect y="664.30" width="9.8" height="8.50" fill="#204d6b"/>
<rect y="672.20" width="9.8" height="8.50" fill="#102d4c"/>
<rect y="680.10" width="9.8" height="5.00" fill="#0b1f3a"/>
<path d="M0 552.90h9.8M0 555.70h9.8M0 560.40h9.8M0 571.10h9.8M0 574.90h9.8M0 580.00h9.8M0 581.60h9.8M0 588.90h9.8M0 593.10h9.8M0 598.20h9.8M0 601.90h9.8M0 606.60h9.8M0 610.30h9.8M0 615.00h9.8M0 617.90h9.8M0 624.30h9.8M0 627.30h9.8M0 633.70h9.8M0 639.10h9.8M0 646.10h9.8M0 653.50h9.8M0 658.40h9.8M0 664.30h9.8M0 672.20h9.8M0 680.10h9.8" stroke="#1a1a14" stroke-opacity="0.75" stroke-width="0.8"/>
<rect y="548.30" width="9.8" height="136.80" fill="none" stroke="#8a8a8a" stroke-width="0.8"/>
</g>
<g transform="translate(215.1,0)">
<rect y="548.30" width="9.8" height="6.20" fill="#1e220d"/>
<rect y="553.90" width="9.8" height="3.80" fill="#2a2b13"/>
<rect y="557.10" width="9.8" height="3.90" fill="#3a3818"/>
<rect y="560.40" width="9.8" height="6.70" fill="#4a4520"/>
<rect y="566.50" width="9.8" height="4.30" fill="#575024"/>
<rect y="570.20" width="9.8" height="2.90" fill="#766b3e"/>
<rect y="572.50" width="9.8" height="6.70" fill="#9b8f6f"/>
<rect y="578.60" width="9.8" height="4.80" fill="#a9a084"/>
<rect y="582.80" width="9.8" height="6.20" fill="#b0a88e"/>
<rect y="588.40" width="9.8" height="5.50" fill="#c0b8a3"/>
<rect y="593.30" width="9.8" height="4.60" fill="#cfc7b7"/>
<rect y="597.30" width="9.8" height="10.80" fill="#dfd8cc"/>
<rect y="607.50" width="9.8" height="3.40" fill="#b5b3ad"/>
<rect y="610.30" width="9.8" height="2.50" fill="#f4f0ef"/>
<rect y="612.20" width="9.8" height="6.30" fill="#ecebed"/>
<rect y="617.90" width="9.8" height="6.10" fill="#dcdee0"/>
<rect y="623.40" width="9.8" height="2.50" fill="#c8cbd0"/>
<rect y="625.30" width="9.8" height="12.50" fill="#c2c7ce"/>
<rect y="637.20" width="9.8" height="3.50" fill="#b3bac3"/>
<rect y="640.10" width="9.8" height="3.10" fill="#a0abb5"/>
<rect y="642.60" width="9.8" height="4.50" fill="#939fac"/>
<rect y="646.50" width="9.8" height="5.60" fill="#8292a1"/>
<rect y="651.50" width="9.8" height="9.50" fill="#62788c"/>
<rect y="660.40" width="9.8" height="3.50" fill="#546d83"/>
<rect y="663.30" width="9.8" height="5.60" fill="#3a5a72"/>
<rect y="668.30" width="9.8" height="10.40" fill="#204d6b"/>
<rect y="678.10" width="9.8" height="2.50" fill="#0a1428"/>
<rect y="680.00" width="9.8" height="5.10" fill="#0b1f3a"/>
<path d="M0 553.90h9.8M0 557.10h9.8M0 560.40h9.8M0 566.50h9.8M0 570.20h9.8M0 572.50h9.8M0 578.60h9.8M0 582.80h9.8M0 588.40h9.8M0 593.30h9.8M0 597.30h9.8M0 607.50h9.8M0 610.30h9.8M0 612.20h9.8M0 617.90h9.8M0 623.40h9.8M0 625.30h9.8M0 637.20h9.8M0 640.10h9.8M0 642.60h9.8M0 646.50h9.8M0 651.50h9.8M0 660.40h9.8M0 663.30h9.8M0 668.30h9.8M0 678.10h9.8M0 680.00h9.8" stroke="#1a1a14" stroke-opacity="0.75" stroke-width="0.8"/>
<rect y="548.30" width="9.8" height="136.80" fill="none" stroke="#8a8a8a" stroke-width="0.8"/>
</g>
<g transform="translate(227.0,0)">
<rect y="548.30" width="9.8" height="50.60" fill="#1e220d"/>
<rect y="598.30" width="9.8" height="42.40" fill="#2a2b13"/>
<rect y="640.10" width="9.8" height="2.00" fill="#1a1a14"/>
<rect y="641.50" width="9.8" height="1.70" fill="#777777"/>
<rect y="642.60" width="9.8" height="1.60" fill="#222222"/>
<rect y="643.60" width="9.8" height="18.30" fill="#939fac"/>
<rect y="661.30" width="9.8" height="1.60" fill="#0a1428"/>
<rect y="662.30" width="9.8" height="22.80" fill="#0b1f3a"/>
<path d="M0 598.30h9.8M0 640.10h9.8M0 641.50h9.8M0 642.60h9.8M0 643.60h9.8M0 661.30h9.8M0 662.30h9.8" stroke="#1a1a14" stroke-opacity="0.75" stroke-width="0.8"/>
<rect y="548.30" width="9.8" height="136.80" fill="none" stroke="#8a8a8a" stroke-width="0.8"/>
</g>
<g transform="translate(238.9,0)">
<rect y="548.30" width="9.8" height="134.50" fill="#1e220d"/>
<rect y="682.20" width="9.8" height="2.90" fill="#161616"/>
<path d="M0 682.20h9.8" stroke="#1a1a14" stroke-opacity="0.75" stroke-width="0.8"/>
<rect y="548.30" width="9.8" height="136.80" fill="none" stroke="#8a8a8a" stroke-width="0.8"/>
</g>
<text x="314.0" y="537.0" font-size="16" class="g" fill="#2b2a24" textLength="31.3" lengthAdjust="spacingAndGlyphs">2620</text>
<g transform="translate(297.6,0)">
<rect y="548.30" width="9.8" height="6.60" fill="#1e220d"/>
<rect y="554.30" width="9.8" height="3.00" fill="#2a2b13"/>
<rect y="556.70" width="9.8" height="4.30" fill="#3a3818"/>
<rect y="560.40" width="9.8" height="9.90" fill="#4a4520"/>
<rect y="569.70" width="9.8" height="4.40" fill="#575024"/>
<rect y="573.50" width="9.8" height="3.90" fill="#766b3e"/>
<rect y="576.80" width="9.8" height="1.90" fill="#3f3822"/>
<rect y="578.10" width="9.8" height="6.70" fill="#9b8f6f"/>
<rect y="584.20" width="9.8" height="6.00" fill="#a9a084"/>
<rect y="589.60" width="9.8" height="5.30" fill="#b0a88e"/>
<rect y="594.30" width="9.8" height="2.20" fill="#c0b8a3"/>
<rect y="595.90" width="9.8" height="5.70" fill="#cfc7b7"/>
<rect y="601.00" width="9.8" height="2.00" fill="#9a9a96"/>
<rect y="602.40" width="9.8" height="4.30" fill="#ece8e2"/>
<rect y="606.10" width="9.8" height="4.80" fill="#f4f0ef"/>
<rect y="610.30" width="9.8" height="7.30" fill="#ecebed"/>
<rect y="617.00" width="9.8" height="7.90" fill="#dcdee0"/>
<rect y="624.30" width="9.8" height="4.10" fill="#c8cbd0"/>
<rect y="627.80" width="9.8" height="5.00" fill="#b3bac3"/>
<rect y="632.20" width="9.8" height="3.60" fill="#a0abb5"/>
<rect y="635.20" width="9.8" height="4.50" fill="#939fac"/>
<rect y="639.10" width="9.8" height="4.60" fill="#8292a1"/>
<rect y="643.10" width="9.8" height="4.50" fill="#718497"/>
<rect y="647.00" width="9.8" height="7.50" fill="#62788c"/>
<rect y="653.90" width="9.8" height="7.10" fill="#546d83"/>
<rect y="660.40" width="9.8" height="4.50" fill="#4a6579"/>
<rect y="664.30" width="9.8" height="6.50" fill="#204d6b"/>
<rect y="670.20" width="9.8" height="9.00" fill="#102d4c"/>
<rect y="678.60" width="9.8" height="6.50" fill="#0b1f3a"/>
<path d="M0 554.30h9.8M0 556.70h9.8M0 560.40h9.8M0 569.70h9.8M0 573.50h9.8M0 576.80h9.8M0 578.10h9.8M0 584.20h9.8M0 589.60h9.8M0 594.30h9.8M0 595.90h9.8M0 601.00h9.8M0 602.40h9.8M0 606.10h9.8M0 610.30h9.8M0 617.00h9.8M0 624.30h9.8M0 627.80h9.8M0 632.20h9.8M0 635.20h9.8M0 639.10h9.8M0 643.10h9.8M0 647.00h9.8M0 653.90h9.8M0 660.40h9.8M0 664.30h9.8M0 670.20h9.8M0 678.60h9.8" stroke="#1a1a14" stroke-opacity="0.75" stroke-width="0.8"/>
<rect y="548.30" width="9.8" height="136.80" fill="none" stroke="#8a8a8a" stroke-width="0.8"/>
</g>
<g transform="translate(340.2,0)">
<rect y="548.30" width="9.8" height="4.80" fill="#1e220d"/>
<rect y="552.50" width="9.8" height="2.00" fill="#2a2b13"/>
<rect y="553.90" width="9.8" height="2.90" fill="#3a3818"/>
<rect y="556.20" width="9.8" height="6.70" fill="#4a4520"/>
<rect y="562.30" width="9.8" height="5.70" fill="#575024"/>
<rect y="567.40" width="9.8" height="2.90" fill="#4e4526"/>
<rect y="569.70" width="9.8" height="5.80" fill="#9b8f6f"/>
<rect y="574.90" width="9.8" height="6.60" fill="#a9a084"/>
<rect y="580.90" width="9.8" height="10.00" fill="#b0a88e"/>
<rect y="590.30" width="9.8" height="2.90" fill="#9e9a8d"/>
<rect y="592.60" width="9.8" height="3.90" fill="#cfc7b7"/>
<rect y="595.90" width="9.8" height="5.70" fill="#ece8e2"/>
<rect y="601.00" width="9.8" height="2.00" fill="#cfcdcb"/>
<rect y="602.40" width="9.8" height="7.60" fill="#f4f0ef"/>
<rect y="609.40" width="9.8" height="2.00" fill="#b8b8b8"/>
<rect y="610.80" width="9.8" height="3.90" fill="#ecebed"/>
<rect y="614.10" width="9.8" height="6.90" fill="#dcdee0"/>
<rect y="620.40" width="9.8" height="4.50" fill="#c8cbd0"/>
<rect y="624.30" width="9.8" height="2.10" fill="#6a6e74"/>
<rect y="625.80" width="9.8" height="6.10" fill="#b3bac3"/>
<rect y="631.30" width="9.8" height="2.50" fill="#a0abb5"/>
<rect y="633.20" width="9.8" height="3.60" fill="#939fac"/>
<rect y="636.20" width="9.8" height="3.50" fill="#768799"/>
<rect y="639.10" width="9.8" height="5.60" fill="#718497"/>
<rect y="644.10" width="9.8" height="17.80" fill="#62788c"/>
<rect y="661.30" width="9.8" height="5.60" fill="#546d83"/>
<rect y="666.30" width="9.8" height="7.00" fill="#3a5a72"/>
<rect y="672.70" width="9.8" height="8.00" fill="#204d6b"/>
<rect y="680.10" width="9.8" height="2.10" fill="#0a1428"/>
<rect y="681.60" width="9.8" height="3.50" fill="#0b1f3a"/>
<path d="M0 552.50h9.8M0 553.90h9.8M0 556.20h9.8M0 562.30h9.8M0 567.40h9.8M0 569.70h9.8M0 574.90h9.8M0 580.90h9.8M0 590.30h9.8M0 592.60h9.8M0 595.90h9.8M0 601.00h9.8M0 602.40h9.8M0 609.40h9.8M0 610.80h9.8M0 614.10h9.8M0 620.40h9.8M0 624.30h9.8M0 625.80h9.8M0 631.30h9.8M0 633.20h9.8M0 636.20h9.8M0 639.10h9.8M0 644.10h9.8M0 661.30h9.8M0 666.30h9.8M0 672.70h9.8M0 680.10h9.8M0 681.60h9.8" stroke="#1a1a14" stroke-opacity="0.75" stroke-width="0.8"/>
<rect y="548.30" width="9.8" height="136.80" fill="none" stroke="#8a8a8a" stroke-width="0.8"/>
</g>
<g transform="translate(351.9,0)">
<rect y="548.30" width="9.8" height="6.60" fill="#1e220d"/>
<rect y="554.30" width="9.8" height="8.10" fill="#4a4520"/>
<rect y="561.80" width="9.8" height="1.50" fill="#2a2616"/>
<rect y="562.70" width="9.8" height="2.50" fill="#857b60"/>
<rect y="564.60" width="9.8" height="21.10" fill="#b5ad94"/>
<rect y="585.10" width="9.8" height="3.50" fill="#c0b8a3"/>
<rect y="588.00" width="9.8" height="1.60" fill="#3a3830"/>
<rect y="589.00" width="9.8" height="5.60" fill="#dfd8cc"/>
<rect y="594.00" width="9.8" height="2.50" fill="#9a9893"/>
<rect y="595.90" width="9.8" height="6.70" fill="#f4f0ef"/>
<rect y="602.00" width="9.8" height="9.90" fill="#ecebed"/>
<rect y="611.30" width="9.8" height="6.30" fill="#dcdee0"/>
<rect y="617.00" width="9.8" height="8.40" fill="#bcc3cc"/>
<rect y="624.80" width="9.8" height="5.60" fill="#b3bac3"/>
<rect y="629.80" width="9.8" height="1.40" fill="#222831"/>
<rect y="630.60" width="9.8" height="6.20" fill="#939fac"/>
<rect y="636.20" width="9.8" height="4.50" fill="#8292a1"/>
<rect y="640.10" width="9.8" height="2.60" fill="#718497"/>
<rect y="642.10" width="9.8" height="33.70" fill="#5a7288"/>
<rect y="675.20" width="9.8" height="4.00" fill="#4a6579"/>
<rect y="678.60" width="9.8" height="3.10" fill="#204d6b"/>
<rect y="681.10" width="9.8" height="4.00" fill="#0b1f3a"/>
<path d="M0 554.30h9.8M0 561.80h9.8M0 562.70h9.8M0 564.60h9.8M0 585.10h9.8M0 588.00h9.8M0 589.00h9.8M0 594.00h9.8M0 595.90h9.8M0 602.00h9.8M0 611.30h9.8M0 617.00h9.8M0 624.80h9.8M0 629.80h9.8M0 630.60h9.8M0 636.20h9.8M0 640.10h9.8M0 642.10h9.8M0 675.20h9.8M0 678.60h9.8M0 681.10h9.8" stroke="#1a1a14" stroke-opacity="0.75" stroke-width="0.8"/>
<rect y="548.30" width="9.8" height="136.80" fill="none" stroke="#8a8a8a" stroke-width="0.8"/>
</g>
<g transform="translate(363.4,0)">
<rect y="548.30" width="9.8" height="10.80" fill="#1e220d"/>
<rect y="558.50" width="9.8" height="6.20" fill="#575024"/>
<rect y="564.10" width="9.8" height="1.70" fill="#2a2616"/>
<rect y="565.20" width="9.8" height="3.70" fill="#9b8f6f"/>
<rect y="568.30" width="9.8" height="18.40" fill="#b5ad94"/>
<rect y="586.10" width="9.8" height="2.40" fill="#c0b8a3"/>
<rect y="587.90" width="9.8" height="1.60" fill="#3a3830"/>
<rect y="588.90" width="9.8" height="5.70" fill="#dfd8cc"/>
<rect y="594.00" width="9.8" height="2.00" fill="#9a9893"/>
<rect y="595.40" width="9.8" height="8.10" fill="#f4f0ef"/>
<rect y="602.90" width="9.8" height="7.60" fill="#ecebed"/>
<rect y="609.90" width="9.8" height="5.70" fill="#dcdee0"/>
<rect y="615.00" width="9.8" height="2.60" fill="#c8cbd0"/>
<rect y="617.00" width="9.8" height="10.90" fill="#c0c6cd"/>
<rect y="627.30" width="9.8" height="6.50" fill="#b3bac3"/>
<rect y="633.20" width="9.8" height="1.60" fill="#3a4048"/>
<rect y="634.20" width="9.8" height="4.10" fill="#939fac"/>
<rect y="637.70" width="9.8" height="4.00" fill="#8292a1"/>
<rect y="641.10" width="9.8" height="2.60" fill="#718497"/>
<rect y="643.10" width="9.8" height="29.70" fill="#5a7288"/>
<rect y="672.20" width="9.8" height="4.50" fill="#4a6579"/>
<rect y="676.10" width="9.8" height="4.10" fill="#204d6b"/>
<rect y="679.60" width="9.8" height="2.10" fill="#0a1428"/>
<rect y="681.10" width="9.8" height="4.00" fill="#0b1f3a"/>
<path d="M0 558.50h9.8M0 564.10h9.8M0 565.20h9.8M0 568.30h9.8M0 586.10h9.8M0 587.90h9.8M0 588.90h9.8M0 594.00h9.8M0 595.40h9.8M0 602.90h9.8M0 609.90h9.8M0 615.00h9.8M0 617.00h9.8M0 627.30h9.8M0 633.20h9.8M0 634.20h9.8M0 637.70h9.8M0 641.10h9.8M0 643.10h9.8M0 672.20h9.8M0 676.10h9.8M0 679.60h9.8M0 681.10h9.8" stroke="#1a1a14" stroke-opacity="0.75" stroke-width="0.8"/>
<rect y="548.30" width="9.8" height="136.80" fill="none" stroke="#8a8a8a" stroke-width="0.8"/>
</g>
<text x="434.3" y="537.0" font-size="16" class="g" fill="#2b2a24" textLength="30.7" lengthAdjust="spacingAndGlyphs">2744</text>
<g transform="translate(415.9,0)">
<rect y="548.30" width="9.8" height="7.60" fill="#1e220d"/>
<rect y="555.30" width="9.8" height="3.40" fill="#2a2b13"/>
<rect y="558.10" width="9.8" height="11.80" fill="#4a4520"/>
<rect y="569.30" width="9.8" height="5.20" fill="#575024"/>
<rect y="573.90" width="9.8" height="3.80" fill="#766b3e"/>
<rect y="577.10" width="9.8" height="1.80" fill="#3f3822"/>
<rect y="578.30" width="9.8" height="7.90" fill="#9b8f6f"/>
<rect y="585.60" width="9.8" height="5.30" fill="#a9a084"/>
<rect y="590.30" width="9.8" height="5.70" fill="#b0a88e"/>
<rect y="595.40" width="9.8" height="5.30" fill="#c0b8a3"/>
<rect y="600.10" width="9.8" height="4.50" fill="#cfc7b7"/>
<rect y="604.00" width="9.8" height="6.50" fill="#ece8e2"/>
<rect y="609.90" width="9.8" height="6.20" fill="#f4f0ef"/>
<rect y="615.50" width="9.8" height="6.50" fill="#ecebed"/>
<rect y="621.40" width="9.8" height="10.50" fill="#dcdee0"/>
<rect y="631.30" width="9.8" height="4.50" fill="#c8cbd0"/>
<rect y="635.20" width="9.8" height="3.60" fill="#b3bac3"/>
<rect y="638.20" width="9.8" height="3.50" fill="#939fac"/>
<rect y="641.10" width="9.8" height="3.60" fill="#8292a1"/>
<rect y="644.10" width="9.8" height="3.50" fill="#718497"/>
<rect y="647.00" width="9.8" height="4.60" fill="#62788c"/>
<rect y="651.00" width="9.8" height="5.00" fill="#546d83"/>
<rect y="655.40" width="9.8" height="6.50" fill="#4a6579"/>
<rect y="661.30" width="9.8" height="6.10" fill="#3a5a72"/>
<rect y="666.80" width="9.8" height="5.00" fill="#204d6b"/>
<rect y="671.20" width="9.8" height="6.50" fill="#102d4c"/>
<rect y="677.10" width="9.8" height="8.00" fill="#0b1f3a"/>
<path d="M0 555.30h9.8M0 558.10h9.8M0 569.30h9.8M0 573.90h9.8M0 577.10h9.8M0 578.30h9.8M0 585.60h9.8M0 590.30h9.8M0 595.40h9.8M0 600.10h9.8M0 604.00h9.8M0 609.90h9.8M0 615.50h9.8M0 621.40h9.8M0 631.30h9.8M0 635.20h9.8M0 638.20h9.8M0 641.10h9.8M0 644.10h9.8M0 647.00h9.8M0 651.00h9.8M0 655.40h9.8M0 661.30h9.8M0 666.80h9.8M0 671.20h9.8M0 677.10h9.8" stroke="#1a1a14" stroke-opacity="0.75" stroke-width="0.8"/>
<rect y="548.30" width="9.8" height="136.80" fill="none" stroke="#8a8a8a" stroke-width="0.8"/>
</g>
<g transform="translate(458.3,0)">
<rect y="548.30" width="9.8" height="5.70" fill="#1e220d"/>
<rect y="553.40" width="9.8" height="3.90" fill="#2a2b13"/>
<rect y="556.70" width="9.8" height="3.40" fill="#3a3818"/>
<rect y="559.50" width="9.8" height="7.10" fill="#4a4520"/>
<rect y="566.00" width="9.8" height="6.70" fill="#575024"/>
<rect y="572.10" width="9.8" height="2.90" fill="#695d2d"/>
<rect y="574.40" width="9.8" height="5.70" fill="#9b8f6f"/>
<rect y="579.50" width="9.8" height="4.40" fill="#a9a084"/>
<rect y="583.30" width="9.8" height="8.50" fill="#b0a88e"/>
<rect y="591.20" width="9.8" height="9.70" fill="#c0b8a3"/>
<rect y="600.30" width="9.8" height="6.40" fill="#cfc7b7"/>
<rect y="606.10" width="9.8" height="5.80" fill="#ece8e2"/>
<rect y="611.30" width="9.8" height="7.20" fill="#f4f0ef"/>
<rect y="617.90" width="9.8" height="8.00" fill="#ecebed"/>
<rect y="625.30" width="9.8" height="6.60" fill="#dcdee0"/>
<rect y="631.30" width="9.8" height="2.50" fill="#c8cbd0"/>
<rect y="633.20" width="9.8" height="1.90" fill="#5a6068"/>
<rect y="634.50" width="9.8" height="6.20" fill="#b3bac3"/>
<rect y="640.10" width="9.8" height="2.60" fill="#a0abb5"/>
<rect y="642.10" width="9.8" height="4.60" fill="#7a8b9c"/>
<rect y="646.10" width="9.8" height="7.00" fill="#687c90"/>
<rect y="652.50" width="9.8" height="4.50" fill="#546d83"/>
<rect y="656.40" width="9.8" height="8.50" fill="#4a6579"/>
<rect y="664.30" width="9.8" height="6.50" fill="#3a5a72"/>
<rect y="670.20" width="9.8" height="9.50" fill="#204d6b"/>
<rect y="679.10" width="9.8" height="2.60" fill="#173f62"/>
<rect y="681.10" width="9.8" height="2.00" fill="#0a1428"/>
<rect y="682.50" width="9.8" height="2.60" fill="#0b1f3a"/>
<path d="M0 553.40h9.8M0 556.70h9.8M0 559.50h9.8M0 566.00h9.8M0 572.10h9.8M0 574.40h9.8M0 579.50h9.8M0 583.30h9.8M0 591.20h9.8M0 600.30h9.8M0 606.10h9.8M0 611.30h9.8M0 617.90h9.8M0 625.30h9.8M0 631.30h9.8M0 633.20h9.8M0 634.50h9.8M0 640.10h9.8M0 642.10h9.8M0 646.10h9.8M0 652.50h9.8M0 656.40h9.8M0 664.30h9.8M0 670.20h9.8M0 679.10h9.8M0 681.10h9.8M0 682.50h9.8" stroke="#1a1a14" stroke-opacity="0.75" stroke-width="0.8"/>
<rect y="548.30" width="9.8" height="136.80" fill="none" stroke="#8a8a8a" stroke-width="0.8"/>
</g>
<g transform="translate(470.0,0)">
<rect y="548.30" width="9.8" height="9.00" fill="#1e220d"/>
<rect y="556.70" width="9.8" height="2.40" fill="#2a2b13"/>
<rect y="558.50" width="9.8" height="4.40" fill="#4a4520"/>
<rect y="562.30" width="9.8" height="9.40" fill="#575024"/>
<rect y="571.10" width="9.8" height="2.70" fill="#bdb49b"/>
<rect y="573.20" width="9.8" height="3.70" fill="#c2b9a2"/>
<rect y="576.30" width="9.8" height="9.60" fill="#bcb39a"/>
<rect y="585.30" width="9.8" height="10.70" fill="#c7bfab"/>
<rect y="595.40" width="9.8" height="1.40" fill="#3a3830"/>
<rect y="596.20" width="9.8" height="10.50" fill="#dfd8cc"/>
<rect y="606.10" width="9.8" height="4.80" fill="#ece8e2"/>
<rect y="610.30" width="9.8" height="8.20" fill="#f4f0ef"/>
<rect y="617.90" width="9.8" height="9.00" fill="#ecebed"/>
<rect y="626.30" width="9.8" height="7.50" fill="#dcdee0"/>
<rect y="633.20" width="9.8" height="14.40" fill="#c1c6cd"/>
<rect y="647.00" width="9.8" height="6.10" fill="#b3bac3"/>
<rect y="652.50" width="9.8" height="1.50" fill="#3a4048"/>
<rect y="653.40" width="9.8" height="4.60" fill="#8797a6"/>
<rect y="657.40" width="9.8" height="5.50" fill="#687c90"/>
<rect y="662.30" width="9.8" height="5.60" fill="#546d83"/>
<rect y="667.30" width="9.8" height="6.50" fill="#4a6579"/>
<rect y="673.20" width="9.8" height="6.50" fill="#3a5a72"/>
<rect y="679.10" width="9.8" height="3.10" fill="#102d4c"/>
<rect y="681.60" width="9.8" height="3.50" fill="#0b1f3a"/>
<path d="M0 556.70h9.8M0 558.50h9.8M0 562.30h9.8M0 571.10h9.8M0 573.20h9.8M0 576.30h9.8M0 585.30h9.8M0 595.40h9.8M0 596.20h9.8M0 606.10h9.8M0 610.30h9.8M0 617.90h9.8M0 626.30h9.8M0 633.20h9.8M0 647.00h9.8M0 652.50h9.8M0 653.40h9.8M0 657.40h9.8M0 662.30h9.8M0 667.30h9.8M0 673.20h9.8M0 679.10h9.8M0 681.60h9.8" stroke="#1a1a14" stroke-opacity="0.75" stroke-width="0.8"/>
<rect y="548.30" width="9.8" height="136.80" fill="none" stroke="#8a8a8a" stroke-width="0.8"/>
</g>
<g transform="translate(481.5,0)">
<rect y="548.30" width="9.8" height="22.50" fill="#1e220d"/>
<rect y="570.20" width="9.8" height="4.30" fill="#4a4520"/>
<rect y="573.90" width="9.8" height="6.70" fill="#575024"/>
<rect y="580.00" width="9.8" height="3.40" fill="#4a4228"/>
<rect y="582.80" width="9.8" height="2.00" fill="#9b8f6f"/>
<rect y="584.20" width="9.8" height="7.10" fill="#b0a88e"/>
<rect y="590.70" width="9.8" height="8.10" fill="#c0b8a3"/>
<rect y="598.20" width="9.8" height="2.00" fill="#8a877d"/>
<rect y="599.60" width="9.8" height="18.00" fill="#dfd8cc"/>
<rect y="617.00" width="9.8" height="4.00" fill="#ece8e2"/>
<rect y="620.40" width="9.8" height="8.00" fill="#f4f0ef"/>
<rect y="627.80" width="9.8" height="7.00" fill="#ecebed"/>
<rect y="634.20" width="9.8" height="6.00" fill="#dcdee0"/>
<rect y="639.60" width="9.8" height="2.50" fill="#7a7e84"/>
<rect y="641.50" width="9.8" height="13.00" fill="#c1c6cd"/>
<rect y="653.90" width="9.8" height="7.10" fill="#b3bac3"/>
<rect y="660.40" width="9.8" height="4.50" fill="#8797a6"/>
<rect y="664.30" width="9.8" height="6.50" fill="#687c90"/>
<rect y="670.20" width="9.8" height="5.60" fill="#546d83"/>
<rect y="675.20" width="9.8" height="5.50" fill="#3a5a72"/>
<rect y="680.10" width="9.8" height="2.10" fill="#0a1428"/>
<rect y="681.60" width="9.8" height="3.50" fill="#0b1f3a"/>
<path d="M0 570.20h9.8M0 573.90h9.8M0 580.00h9.8M0 582.80h9.8M0 584.20h9.8M0 590.70h9.8M0 598.20h9.8M0 599.60h9.8M0 617.00h9.8M0 620.40h9.8M0 627.80h9.8M0 634.20h9.8M0 639.60h9.8M0 641.50h9.8M0 653.90h9.8M0 660.40h9.8M0 664.30h9.8M0 670.20h9.8M0 675.20h9.8M0 680.10h9.8M0 681.60h9.8" stroke="#1a1a14" stroke-opacity="0.75" stroke-width="0.8"/>
<rect y="548.30" width="9.8" height="136.80" fill="none" stroke="#8a8a8a" stroke-width="0.8"/>
</g>
<text x="51.2" y="702.4" font-size="14" class="g" fill="#2b2a24" textLength="15" lengthAdjust="spacingAndGlyphs">T0</text>
<text x="98.7" y="702.8" font-size="14" class="g" fill="#2b2a24" textLength="35" lengthAdjust="spacingAndGlyphs">0 2 4</text>
<text x="95.2" y="724.8" font-size="15.3" class="g" fill="#2b2a24" textLength="41.5" lengthAdjust="spacingAndGlyphs">[CLA]</text>
<text x="90.3" y="745.5" font-size="15.3" class="g" fill="#2b2a24" textLength="52.6" lengthAdjust="spacingAndGlyphs">(μg/mL)</text>
<rect x="520.8" y="547.2" width="24.6" height="9.3" fill="#1e220d"/>
<text transform="translate(547.6,556.0) scale(0.86,1)" font-size="11" fill="#111" stroke="#111" stroke-width="0.2">K96</text>
<rect x="520.8" y="560.2" width="24.6" height="9.3" fill="#2a2b13"/>
<text transform="translate(547.6,569.0) scale(0.86,1)" font-size="11" fill="#111" stroke="#111" stroke-width="0.2">K93</text>
<rect x="520.8" y="573.2" width="24.6" height="9.3" fill="#3a3818"/>
<text transform="translate(547.6,582.0) scale(0.86,1)" font-size="11" fill="#111" stroke="#111" stroke-width="0.2">K90</text>
<rect x="520.8" y="586.2" width="24.6" height="9.3" fill="#4a4520"/>
<text transform="translate(547.6,595.0) scale(0.86,1)" font-size="11" fill="#111" stroke="#111" stroke-width="0.2">K88</text>
<rect x="520.8" y="599.2" width="24.6" height="9.3" fill="#575024"/>
<text transform="translate(547.6,608.0) scale(0.86,1)" font-size="11" fill="#111" stroke="#111" stroke-width="0.2">K80</text>
<rect x="520.8" y="612.2" width="24.6" height="9.3" fill="#695d2d"/>
<text transform="translate(547.6,621.0) scale(0.86,1)" font-size="11" fill="#111" stroke="#111" stroke-width="0.2">K78</text>
<rect x="520.8" y="625.2" width="24.6" height="9.3" fill="#766b3e"/>
<text transform="translate(547.6,634.0) scale(0.86,1)" font-size="11" fill="#111" stroke="#111" stroke-width="0.2">K76</text>
<rect x="520.8" y="638.2" width="24.6" height="9.3" fill="#7f7049"/>
<text transform="translate(547.6,647.0) scale(0.86,1)" font-size="11" fill="#111" stroke="#111" stroke-width="0.2">K70</text>
<rect x="520.8" y="651.2" width="24.6" height="9.3" fill="#8b7e59"/>
<text transform="translate(547.6,660.0) scale(0.86,1)" font-size="11" fill="#111" stroke="#111" stroke-width="0.2">K69</text>
<rect x="520.8" y="664.2" width="24.6" height="9.3" fill="#9b8f6f"/>
<text transform="translate(547.6,673.0) scale(0.86,1)" font-size="11" fill="#111" stroke="#111" stroke-width="0.2">K67</text>
<rect x="520.8" y="677.2" width="24.6" height="9.3" fill="#a9a084"/>
<text transform="translate(547.6,686.0) scale(0.86,1)" font-size="11" fill="#111" stroke="#111" stroke-width="0.2">K64</text>
<rect x="574.6" y="547.2" width="24.6" height="9.3" fill="#b0a88e"/>
<text transform="translate(601.4,556.0) scale(0.86,1)" font-size="11" fill="#111" stroke="#111" stroke-width="0.2">K59</text>
<rect x="574.6" y="560.2" width="24.6" height="9.3" fill="#c0b8a3"/>
<text transform="translate(601.4,569.0) scale(0.86,1)" font-size="11" fill="#111" stroke="#111" stroke-width="0.2">K55</text>
<rect x="574.6" y="573.2" width="24.6" height="9.3" fill="#cfc7b7"/>
<text transform="translate(601.4,582.0) scale(0.86,1)" font-size="11" fill="#111" stroke="#111" stroke-width="0.2">K54</text>
<rect x="574.6" y="586.2" width="24.6" height="9.3" fill="#dfd8cc"/>
<text transform="translate(601.4,595.0) scale(0.86,1)" font-size="11" fill="#111" stroke="#111" stroke-width="0.2">K52</text>
<rect x="574.6" y="599.2" width="24.6" height="9.3" fill="#ece8e2"/>
<text transform="translate(601.4,608.0) scale(0.86,1)" font-size="11" fill="#111" stroke="#111" stroke-width="0.2">K47</text>
<rect x="574.6" y="612.2" width="24.6" height="9.3" fill="#f4f0ef"/>
<text transform="translate(601.4,621.0) scale(0.86,1)" font-size="11" fill="#111" stroke="#111" stroke-width="0.2">K45</text>
<rect x="574.6" y="625.2" width="24.6" height="9.3" fill="#ecebed"/>
<text transform="translate(601.4,634.0) scale(0.86,1)" font-size="11" fill="#111" stroke="#111" stroke-width="0.2">K38</text>
<rect x="574.6" y="638.2" width="24.6" height="9.3" fill="#dcdee0"/>
<text transform="translate(601.4,647.0) scale(0.86,1)" font-size="11" fill="#111" stroke="#111" stroke-width="0.2">K33</text>
<rect x="574.6" y="651.2" width="24.6" height="9.3" fill="#c8cbd0"/>
<text transform="translate(601.4,660.0) scale(0.86,1)" font-size="11" fill="#111" stroke="#111" stroke-width="0.2">K31</text>
<rect x="574.6" y="664.2" width="24.6" height="9.3" fill="#b3bac3"/>
<text transform="translate(601.4,673.0) scale(0.86,1)" font-size="11" fill="#111" stroke="#111" stroke-width="0.2">K27</text>
<rect x="574.6" y="677.2" width="24.6" height="9.3" fill="#a0abb5"/>
<text transform="translate(601.4,686.0) scale(0.86,1)" font-size="11" fill="#111" stroke="#111" stroke-width="0.2">K20</text>
<rect x="628.7" y="547.2" width="24.6" height="9.3" fill="#939fac"/>
<text transform="translate(655.5,556.0) scale(0.86,1)" font-size="11" fill="#111" stroke="#111" stroke-width="0.2">K19</text>
<rect x="628.7" y="560.2" width="24.6" height="9.3" fill="#8292a1"/>
<text transform="translate(655.5,569.0) scale(0.86,1)" font-size="11" fill="#111" stroke="#111" stroke-width="0.2">K15</text>
<rect x="628.7" y="573.2" width="24.6" height="9.3" fill="#718497"/>
<text transform="translate(655.5,582.0) scale(0.86,1)" font-size="11" fill="#111" stroke="#111" stroke-width="0.2">K13</text>
<rect x="628.7" y="586.2" width="24.6" height="9.3" fill="#62788c"/>
<text transform="translate(655.5,595.0) scale(0.86,1)" font-size="11" fill="#111" stroke="#111" stroke-width="0.2">K12</text>
<rect x="628.7" y="599.2" width="24.6" height="9.3" fill="#546d83"/>
<text transform="translate(655.5,608.0) scale(0.86,1)" font-size="11" fill="#111" stroke="#111" stroke-width="0.2">K11</text>
<rect x="628.7" y="612.2" width="24.6" height="9.3" fill="#4a6579"/>
<text transform="translate(655.5,621.0) scale(0.86,1)" font-size="11" fill="#111" stroke="#111" stroke-width="0.2">K9</text>
<rect x="628.7" y="625.2" width="24.6" height="9.3" fill="#3a5a72"/>
<text transform="translate(655.5,634.0) scale(0.86,1)" font-size="11" fill="#111" stroke="#111" stroke-width="0.2">K7</text>
<rect x="628.7" y="638.2" width="24.6" height="9.3" fill="#204d6b"/>
<text transform="translate(655.5,647.0) scale(0.86,1)" font-size="11" fill="#111" stroke="#111" stroke-width="0.2">K5</text>
<rect x="628.7" y="651.2" width="24.6" height="9.3" fill="#173f62"/>
<text transform="translate(655.5,660.0) scale(0.86,1)" font-size="11" fill="#111" stroke="#111" stroke-width="0.2">K4</text>
<rect x="628.7" y="664.2" width="24.6" height="9.3" fill="#102d4c"/>
<text transform="translate(655.5,673.0) scale(0.86,1)" font-size="11" fill="#111" stroke="#111" stroke-width="0.2">K2</text>
<rect x="628.7" y="677.2" width="24.6" height="9.3" fill="#0b1f3a"/>
<text transform="translate(655.5,686.0) scale(0.86,1)" font-size="11" fill="#111" stroke="#111" stroke-width="0.2">K1</text>
</svg>
</body></html>
